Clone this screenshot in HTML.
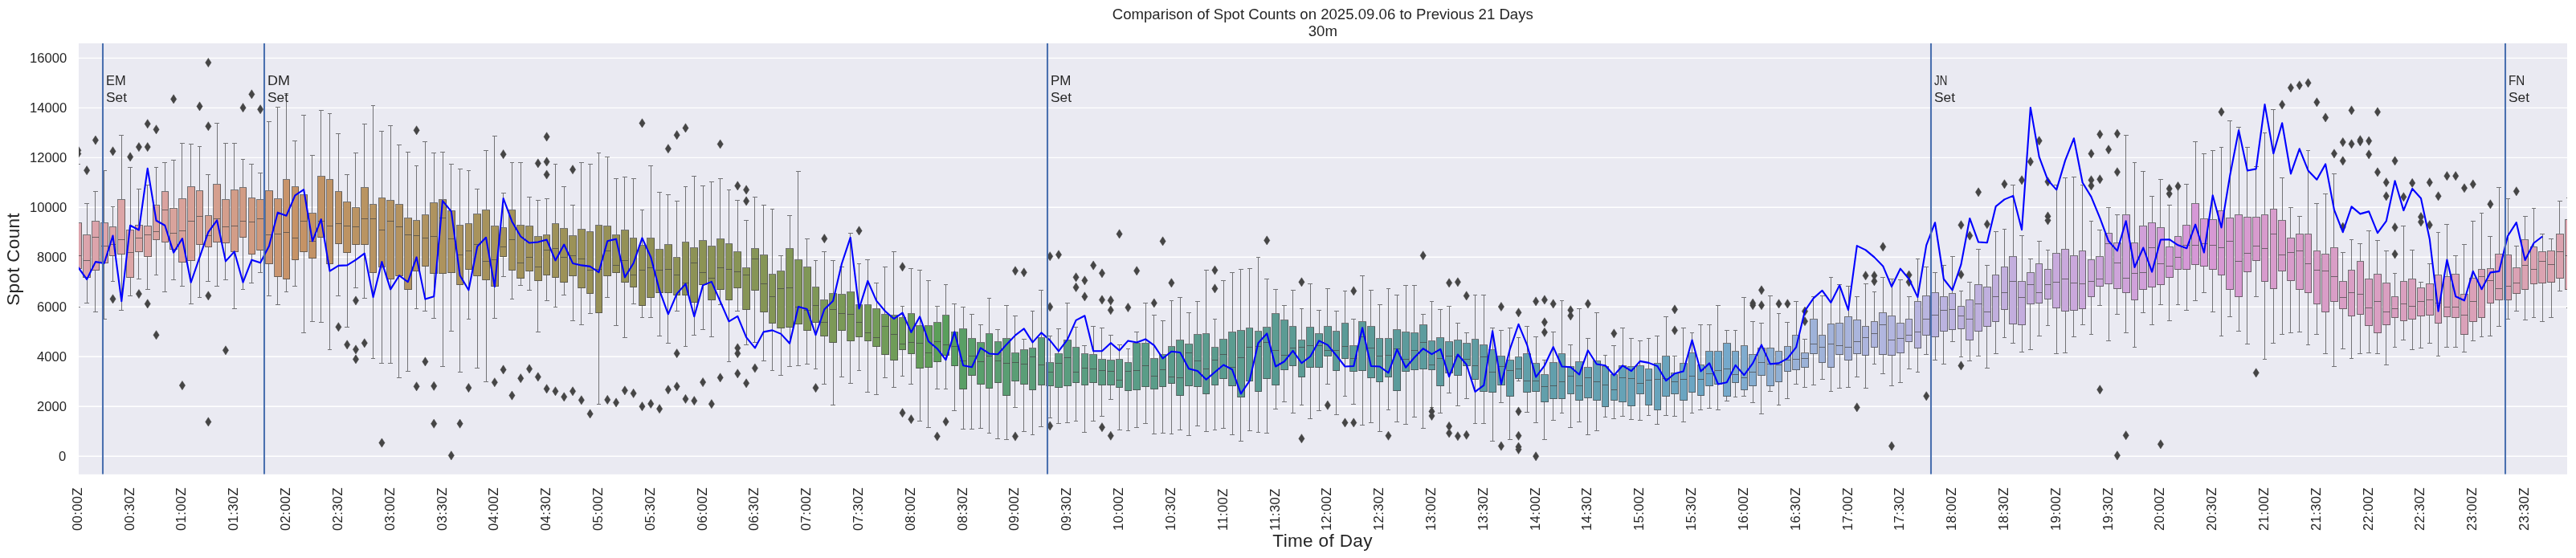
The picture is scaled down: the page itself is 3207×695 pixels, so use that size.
<!DOCTYPE html><html><head><meta charset="utf-8"><title>Spot Counts</title><style>
html,body{margin:0;padding:0;background:#fff;}
body{width:3207px;height:695px;position:relative;overflow:hidden;font-family:"Liberation Sans",sans-serif;color:#262626;}
.t,.yt,.xt,.an{will-change:transform;}
.t{position:absolute;white-space:nowrap;line-height:1;}
.yt{position:absolute;right:3124.3px;font-size:16.6px;line-height:1;white-space:nowrap;transform:translateY(-50%);}
.xt{position:absolute;font-size:16.6px;line-height:1;white-space:nowrap;letter-spacing:0.38px;transform-origin:0 0;transform:rotate(-90deg);}
.an{position:absolute;font-size:17.3px;line-height:21px;white-space:nowrap;}
</style></head><body>
<svg width="3207" height="695" viewBox="0 0 3207 695" style="position:absolute;left:0;top:0">
<rect x="0" y="0" width="3207" height="695" fill="#fff"/>
<rect x="98.0" y="54.0" width="3098.0" height="536.8" fill="#eaeaf2"/>
<clipPath id="c"><rect x="98.0" y="54.0" width="3098.0" height="536.8"/></clipPath>
<line x1="98.0" x2="3196.0" y1="568.20" y2="568.20" stroke="#fff" stroke-width="1.4"/>
<line x1="98.0" x2="3196.0" y1="506.22" y2="506.22" stroke="#fff" stroke-width="1.4"/>
<line x1="98.0" x2="3196.0" y1="444.25" y2="444.25" stroke="#fff" stroke-width="1.4"/>
<line x1="98.0" x2="3196.0" y1="382.27" y2="382.27" stroke="#fff" stroke-width="1.4"/>
<line x1="98.0" x2="3196.0" y1="320.30" y2="320.30" stroke="#fff" stroke-width="1.4"/>
<line x1="98.0" x2="3196.0" y1="258.32" y2="258.32" stroke="#fff" stroke-width="1.4"/>
<line x1="98.0" x2="3196.0" y1="196.34" y2="196.34" stroke="#fff" stroke-width="1.4"/>
<line x1="98.0" x2="3196.0" y1="134.37" y2="134.37" stroke="#fff" stroke-width="1.4"/>
<line x1="98.0" x2="3196.0" y1="72.39" y2="72.39" stroke="#fff" stroke-width="1.4"/>
<g clip-path="url(#c)">
<rect x="92.5" y="277.5" width="9.0" height="57.0" fill="rgb(220,164,173)" stroke="#454545" stroke-opacity="0.72" stroke-width="1" shape-rendering="crispEdges"/>
<rect x="103.5" y="292.5" width="9.0" height="53.0" fill="rgb(220,164,172)" stroke="#454545" stroke-opacity="0.72" stroke-width="1" shape-rendering="crispEdges"/>
<rect x="114.5" y="275.5" width="9.0" height="61.0" fill="rgb(220,164,171)" stroke="#454545" stroke-opacity="0.72" stroke-width="1" shape-rendering="crispEdges"/>
<rect x="125.5" y="277.5" width="9.0" height="50.0" fill="rgb(220,164,170)" stroke="#454545" stroke-opacity="0.72" stroke-width="1" shape-rendering="crispEdges"/>
<rect x="136.5" y="282.5" width="8.0" height="36.0" fill="rgb(220,165,168)" stroke="#454545" stroke-opacity="0.72" stroke-width="1" shape-rendering="crispEdges"/>
<rect x="146.5" y="248.5" width="9.0" height="68.0" fill="rgb(220,165,167)" stroke="#454545" stroke-opacity="0.72" stroke-width="1" shape-rendering="crispEdges"/>
<rect x="157.5" y="286.5" width="9.0" height="59.0" fill="rgb(220,165,166)" stroke="#454545" stroke-opacity="0.72" stroke-width="1" shape-rendering="crispEdges"/>
<rect x="168.5" y="280.5" width="9.0" height="33.0" fill="rgb(220,165,165)" stroke="#454545" stroke-opacity="0.72" stroke-width="1" shape-rendering="crispEdges"/>
<rect x="179.5" y="281.5" width="9.0" height="38.0" fill="rgb(219,164,163)" stroke="#454545" stroke-opacity="0.72" stroke-width="1" shape-rendering="crispEdges"/>
<rect x="190.5" y="255.5" width="8.0" height="43.0" fill="rgb(219,164,161)" stroke="#454545" stroke-opacity="0.72" stroke-width="1" shape-rendering="crispEdges"/>
<rect x="201.5" y="238.5" width="8.0" height="63.0" fill="rgb(218,163,159)" stroke="#454545" stroke-opacity="0.72" stroke-width="1" shape-rendering="crispEdges"/>
<rect x="211.5" y="259.5" width="9.0" height="51.0" fill="rgb(217,163,156)" stroke="#454545" stroke-opacity="0.72" stroke-width="1" shape-rendering="crispEdges"/>
<rect x="222.5" y="247.5" width="9.0" height="79.0" fill="rgb(217,162,154)" stroke="#454545" stroke-opacity="0.72" stroke-width="1" shape-rendering="crispEdges"/>
<rect x="233.5" y="232.5" width="9.0" height="92.0" fill="rgb(216,161,151)" stroke="#454545" stroke-opacity="0.72" stroke-width="1" shape-rendering="crispEdges"/>
<rect x="244.5" y="237.5" width="8.0" height="67.0" fill="rgb(215,161,149)" stroke="#454545" stroke-opacity="0.72" stroke-width="1" shape-rendering="crispEdges"/>
<rect x="255.5" y="268.5" width="8.0" height="39.0" fill="rgb(214,160,146)" stroke="#454545" stroke-opacity="0.72" stroke-width="1" shape-rendering="crispEdges"/>
<rect x="265.5" y="229.5" width="9.0" height="72.0" fill="rgb(213,159,143)" stroke="#454545" stroke-opacity="0.72" stroke-width="1" shape-rendering="crispEdges"/>
<rect x="276.5" y="248.5" width="9.0" height="54.0" fill="rgb(212,158,140)" stroke="#454545" stroke-opacity="0.72" stroke-width="1" shape-rendering="crispEdges"/>
<rect x="287.5" y="236.5" width="9.0" height="77.0" fill="rgb(211,157,136)" stroke="#454545" stroke-opacity="0.72" stroke-width="1" shape-rendering="crispEdges"/>
<rect x="298.5" y="233.5" width="8.0" height="62.0" fill="rgb(210,156,133)" stroke="#454545" stroke-opacity="0.72" stroke-width="1" shape-rendering="crispEdges"/>
<rect x="309.5" y="246.5" width="8.0" height="70.0" fill="rgb(208,155,129)" stroke="#454545" stroke-opacity="0.72" stroke-width="1" shape-rendering="crispEdges"/>
<rect x="319.5" y="248.5" width="9.0" height="63.0" fill="rgb(207,153,124)" stroke="#454545" stroke-opacity="0.72" stroke-width="1" shape-rendering="crispEdges"/>
<rect x="330.5" y="237.5" width="9.0" height="91.0" fill="rgb(205,152,119)" stroke="#454545" stroke-opacity="0.72" stroke-width="1" shape-rendering="crispEdges"/>
<rect x="341.5" y="247.5" width="9.0" height="97.0" fill="rgb(203,150,113)" stroke="#454545" stroke-opacity="0.72" stroke-width="1" shape-rendering="crispEdges"/>
<rect x="352.5" y="223.5" width="8.0" height="124.0" fill="rgb(201,148,106)" stroke="#454545" stroke-opacity="0.72" stroke-width="1" shape-rendering="crispEdges"/>
<rect x="363.5" y="232.5" width="8.0" height="91.0" fill="rgb(199,147,103)" stroke="#454545" stroke-opacity="0.72" stroke-width="1" shape-rendering="crispEdges"/>
<rect x="373.5" y="242.5" width="9.0" height="71.0" fill="rgb(197,147,102)" stroke="#454545" stroke-opacity="0.72" stroke-width="1" shape-rendering="crispEdges"/>
<rect x="384.5" y="265.5" width="9.0" height="56.0" fill="rgb(195,147,102)" stroke="#454545" stroke-opacity="0.72" stroke-width="1" shape-rendering="crispEdges"/>
<rect x="395.5" y="219.5" width="9.0" height="76.0" fill="rgb(193,147,101)" stroke="#454545" stroke-opacity="0.72" stroke-width="1" shape-rendering="crispEdges"/>
<rect x="406.5" y="223.5" width="8.0" height="105.0" fill="rgb(192,147,100)" stroke="#454545" stroke-opacity="0.72" stroke-width="1" shape-rendering="crispEdges"/>
<rect x="417.5" y="238.5" width="8.0" height="65.0" fill="rgb(190,147,100)" stroke="#454545" stroke-opacity="0.72" stroke-width="1" shape-rendering="crispEdges"/>
<rect x="427.5" y="251.5" width="9.0" height="63.0" fill="rgb(189,147,99)" stroke="#454545" stroke-opacity="0.72" stroke-width="1" shape-rendering="crispEdges"/>
<rect x="438.5" y="258.5" width="9.0" height="46.0" fill="rgb(187,148,99)" stroke="#454545" stroke-opacity="0.72" stroke-width="1" shape-rendering="crispEdges"/>
<rect x="449.5" y="233.5" width="9.0" height="71.0" fill="rgb(185,148,98)" stroke="#454545" stroke-opacity="0.72" stroke-width="1" shape-rendering="crispEdges"/>
<rect x="460.5" y="254.5" width="8.0" height="85.0" fill="rgb(184,148,98)" stroke="#454545" stroke-opacity="0.72" stroke-width="1" shape-rendering="crispEdges"/>
<rect x="471.5" y="246.5" width="8.0" height="86.0" fill="rgb(183,147,97)" stroke="#454545" stroke-opacity="0.72" stroke-width="1" shape-rendering="crispEdges"/>
<rect x="481.5" y="249.5" width="9.0" height="98.0" fill="rgb(181,147,97)" stroke="#454545" stroke-opacity="0.72" stroke-width="1" shape-rendering="crispEdges"/>
<rect x="492.5" y="254.5" width="9.0" height="89.0" fill="rgb(180,147,96)" stroke="#454545" stroke-opacity="0.72" stroke-width="1" shape-rendering="crispEdges"/>
<rect x="503.5" y="271.5" width="9.0" height="89.0" fill="rgb(178,147,96)" stroke="#454545" stroke-opacity="0.72" stroke-width="1" shape-rendering="crispEdges"/>
<rect x="514.5" y="274.5" width="8.0" height="63.0" fill="rgb(177,147,95)" stroke="#454545" stroke-opacity="0.72" stroke-width="1" shape-rendering="crispEdges"/>
<rect x="525.5" y="267.5" width="8.0" height="64.0" fill="rgb(176,147,95)" stroke="#454545" stroke-opacity="0.72" stroke-width="1" shape-rendering="crispEdges"/>
<rect x="535.5" y="252.5" width="9.0" height="88.0" fill="rgb(175,147,95)" stroke="#454545" stroke-opacity="0.72" stroke-width="1" shape-rendering="crispEdges"/>
<rect x="546.5" y="248.5" width="9.0" height="92.0" fill="rgb(173,147,94)" stroke="#454545" stroke-opacity="0.72" stroke-width="1" shape-rendering="crispEdges"/>
<rect x="557.5" y="262.5" width="9.0" height="77.0" fill="rgb(172,147,94)" stroke="#454545" stroke-opacity="0.72" stroke-width="1" shape-rendering="crispEdges"/>
<rect x="568.5" y="280.5" width="8.0" height="74.0" fill="rgb(171,147,93)" stroke="#454545" stroke-opacity="0.72" stroke-width="1" shape-rendering="crispEdges"/>
<rect x="579.5" y="278.5" width="8.0" height="57.0" fill="rgb(170,147,93)" stroke="#454545" stroke-opacity="0.72" stroke-width="1" shape-rendering="crispEdges"/>
<rect x="589.5" y="266.5" width="9.0" height="77.0" fill="rgb(168,147,92)" stroke="#454545" stroke-opacity="0.72" stroke-width="1" shape-rendering="crispEdges"/>
<rect x="600.5" y="261.5" width="9.0" height="87.0" fill="rgb(167,147,92)" stroke="#454545" stroke-opacity="0.72" stroke-width="1" shape-rendering="crispEdges"/>
<rect x="611.5" y="281.5" width="9.0" height="75.0" fill="rgb(166,147,92)" stroke="#454545" stroke-opacity="0.72" stroke-width="1" shape-rendering="crispEdges"/>
<rect x="622.5" y="283.5" width="8.0" height="36.0" fill="rgb(165,147,91)" stroke="#454545" stroke-opacity="0.72" stroke-width="1" shape-rendering="crispEdges"/>
<rect x="633.5" y="261.5" width="8.0" height="75.0" fill="rgb(164,147,91)" stroke="#454545" stroke-opacity="0.72" stroke-width="1" shape-rendering="crispEdges"/>
<rect x="643.5" y="280.5" width="9.0" height="66.0" fill="rgb(162,146,90)" stroke="#454545" stroke-opacity="0.72" stroke-width="1" shape-rendering="crispEdges"/>
<rect x="654.5" y="281.5" width="9.0" height="56.0" fill="rgb(161,146,90)" stroke="#454545" stroke-opacity="0.72" stroke-width="1" shape-rendering="crispEdges"/>
<rect x="665.5" y="294.5" width="9.0" height="55.0" fill="rgb(160,146,90)" stroke="#454545" stroke-opacity="0.72" stroke-width="1" shape-rendering="crispEdges"/>
<rect x="676.5" y="292.5" width="8.0" height="50.0" fill="rgb(159,146,89)" stroke="#454545" stroke-opacity="0.72" stroke-width="1" shape-rendering="crispEdges"/>
<rect x="687.5" y="278.5" width="8.0" height="67.0" fill="rgb(158,146,89)" stroke="#454545" stroke-opacity="0.72" stroke-width="1" shape-rendering="crispEdges"/>
<rect x="697.5" y="284.5" width="9.0" height="67.0" fill="rgb(157,146,88)" stroke="#454545" stroke-opacity="0.72" stroke-width="1" shape-rendering="crispEdges"/>
<rect x="708.5" y="293.5" width="9.0" height="50.0" fill="rgb(155,146,88)" stroke="#454545" stroke-opacity="0.72" stroke-width="1" shape-rendering="crispEdges"/>
<rect x="719.5" y="285.5" width="9.0" height="73.0" fill="rgb(154,146,88)" stroke="#454545" stroke-opacity="0.72" stroke-width="1" shape-rendering="crispEdges"/>
<rect x="730.5" y="288.5" width="8.0" height="77.0" fill="rgb(153,145,87)" stroke="#454545" stroke-opacity="0.72" stroke-width="1" shape-rendering="crispEdges"/>
<rect x="741.5" y="280.5" width="8.0" height="109.0" fill="rgb(152,145,87)" stroke="#454545" stroke-opacity="0.72" stroke-width="1" shape-rendering="crispEdges"/>
<rect x="751.5" y="281.5" width="9.0" height="62.0" fill="rgb(151,145,86)" stroke="#454545" stroke-opacity="0.72" stroke-width="1" shape-rendering="crispEdges"/>
<rect x="762.5" y="292.5" width="9.0" height="47.0" fill="rgb(149,145,86)" stroke="#454545" stroke-opacity="0.72" stroke-width="1" shape-rendering="crispEdges"/>
<rect x="773.5" y="286.5" width="9.0" height="65.0" fill="rgb(148,145,86)" stroke="#454545" stroke-opacity="0.72" stroke-width="1" shape-rendering="crispEdges"/>
<rect x="784.5" y="296.5" width="8.0" height="61.0" fill="rgb(147,145,85)" stroke="#454545" stroke-opacity="0.72" stroke-width="1" shape-rendering="crispEdges"/>
<rect x="795.5" y="305.5" width="8.0" height="75.0" fill="rgb(146,145,85)" stroke="#454545" stroke-opacity="0.72" stroke-width="1" shape-rendering="crispEdges"/>
<rect x="805.5" y="296.5" width="9.0" height="74.0" fill="rgb(144,144,84)" stroke="#454545" stroke-opacity="0.72" stroke-width="1" shape-rendering="crispEdges"/>
<rect x="816.5" y="310.5" width="9.0" height="54.0" fill="rgb(144,145,84)" stroke="#454545" stroke-opacity="0.72" stroke-width="1" shape-rendering="crispEdges"/>
<rect x="827.5" y="304.5" width="9.0" height="60.0" fill="rgb(143,145,85)" stroke="#454545" stroke-opacity="0.72" stroke-width="1" shape-rendering="crispEdges"/>
<rect x="838.5" y="320.5" width="8.0" height="47.0" fill="rgb(142,146,85)" stroke="#454545" stroke-opacity="0.72" stroke-width="1" shape-rendering="crispEdges"/>
<rect x="849.5" y="301.5" width="8.0" height="66.0" fill="rgb(141,146,85)" stroke="#454545" stroke-opacity="0.72" stroke-width="1" shape-rendering="crispEdges"/>
<rect x="859.5" y="308.5" width="9.0" height="68.0" fill="rgb(141,146,85)" stroke="#454545" stroke-opacity="0.72" stroke-width="1" shape-rendering="crispEdges"/>
<rect x="870.5" y="299.5" width="9.0" height="55.0" fill="rgb(140,147,85)" stroke="#454545" stroke-opacity="0.72" stroke-width="1" shape-rendering="crispEdges"/>
<rect x="881.5" y="306.5" width="9.0" height="67.0" fill="rgb(139,147,85)" stroke="#454545" stroke-opacity="0.72" stroke-width="1" shape-rendering="crispEdges"/>
<rect x="892.5" y="297.5" width="9.0" height="63.0" fill="rgb(138,147,85)" stroke="#454545" stroke-opacity="0.72" stroke-width="1" shape-rendering="crispEdges"/>
<rect x="903.5" y="303.5" width="8.0" height="70.0" fill="rgb(137,148,85)" stroke="#454545" stroke-opacity="0.72" stroke-width="1" shape-rendering="crispEdges"/>
<rect x="913.5" y="313.5" width="9.0" height="45.0" fill="rgb(136,148,86)" stroke="#454545" stroke-opacity="0.72" stroke-width="1" shape-rendering="crispEdges"/>
<rect x="924.5" y="333.5" width="9.0" height="52.0" fill="rgb(135,149,86)" stroke="#454545" stroke-opacity="0.72" stroke-width="1" shape-rendering="crispEdges"/>
<rect x="935.5" y="309.5" width="9.0" height="52.0" fill="rgb(134,149,86)" stroke="#454545" stroke-opacity="0.72" stroke-width="1" shape-rendering="crispEdges"/>
<rect x="946.5" y="317.5" width="9.0" height="71.0" fill="rgb(133,149,86)" stroke="#454545" stroke-opacity="0.72" stroke-width="1" shape-rendering="crispEdges"/>
<rect x="957.5" y="341.5" width="8.0" height="61.0" fill="rgb(132,150,86)" stroke="#454545" stroke-opacity="0.72" stroke-width="1" shape-rendering="crispEdges"/>
<rect x="967.5" y="337.5" width="9.0" height="71.0" fill="rgb(131,150,86)" stroke="#454545" stroke-opacity="0.72" stroke-width="1" shape-rendering="crispEdges"/>
<rect x="978.5" y="309.5" width="9.0" height="98.0" fill="rgb(130,151,86)" stroke="#454545" stroke-opacity="0.72" stroke-width="1" shape-rendering="crispEdges"/>
<rect x="989.5" y="323.5" width="9.0" height="80.0" fill="rgb(129,151,86)" stroke="#454545" stroke-opacity="0.72" stroke-width="1" shape-rendering="crispEdges"/>
<rect x="1000.5" y="332.5" width="9.0" height="79.0" fill="rgb(128,151,87)" stroke="#454545" stroke-opacity="0.72" stroke-width="1" shape-rendering="crispEdges"/>
<rect x="1011.5" y="357.5" width="8.0" height="44.0" fill="rgb(127,152,87)" stroke="#454545" stroke-opacity="0.72" stroke-width="1" shape-rendering="crispEdges"/>
<rect x="1021.5" y="373.5" width="9.0" height="45.0" fill="rgb(125,152,87)" stroke="#454545" stroke-opacity="0.72" stroke-width="1" shape-rendering="crispEdges"/>
<rect x="1032.5" y="365.5" width="9.0" height="61.0" fill="rgb(124,153,87)" stroke="#454545" stroke-opacity="0.72" stroke-width="1" shape-rendering="crispEdges"/>
<rect x="1043.5" y="366.5" width="9.0" height="45.0" fill="rgb(122,153,87)" stroke="#454545" stroke-opacity="0.72" stroke-width="1" shape-rendering="crispEdges"/>
<rect x="1054.5" y="363.5" width="9.0" height="61.0" fill="rgb(121,154,87)" stroke="#454545" stroke-opacity="0.72" stroke-width="1" shape-rendering="crispEdges"/>
<rect x="1065.5" y="379.5" width="8.0" height="40.0" fill="rgb(119,154,87)" stroke="#454545" stroke-opacity="0.72" stroke-width="1" shape-rendering="crispEdges"/>
<rect x="1076.5" y="379.5" width="8.0" height="45.0" fill="rgb(117,155,88)" stroke="#454545" stroke-opacity="0.72" stroke-width="1" shape-rendering="crispEdges"/>
<rect x="1086.5" y="384.5" width="9.0" height="47.0" fill="rgb(115,155,88)" stroke="#454545" stroke-opacity="0.72" stroke-width="1" shape-rendering="crispEdges"/>
<rect x="1097.5" y="391.5" width="9.0" height="50.0" fill="rgb(113,156,88)" stroke="#454545" stroke-opacity="0.72" stroke-width="1" shape-rendering="crispEdges"/>
<rect x="1108.5" y="392.5" width="9.0" height="56.0" fill="rgb(111,156,88)" stroke="#454545" stroke-opacity="0.72" stroke-width="1" shape-rendering="crispEdges"/>
<rect x="1119.5" y="395.5" width="8.0" height="40.0" fill="rgb(108,157,88)" stroke="#454545" stroke-opacity="0.72" stroke-width="1" shape-rendering="crispEdges"/>
<rect x="1130.5" y="390.5" width="8.0" height="50.0" fill="rgb(105,157,88)" stroke="#454545" stroke-opacity="0.72" stroke-width="1" shape-rendering="crispEdges"/>
<rect x="1140.5" y="405.5" width="9.0" height="53.0" fill="rgb(101,158,89)" stroke="#454545" stroke-opacity="0.72" stroke-width="1" shape-rendering="crispEdges"/>
<rect x="1151.5" y="405.5" width="9.0" height="52.0" fill="rgb(97,158,89)" stroke="#454545" stroke-opacity="0.72" stroke-width="1" shape-rendering="crispEdges"/>
<rect x="1162.5" y="401.5" width="9.0" height="49.0" fill="rgb(92,159,89)" stroke="#454545" stroke-opacity="0.72" stroke-width="1" shape-rendering="crispEdges"/>
<rect x="1173.5" y="392.5" width="8.0" height="50.0" fill="rgb(89,159,92)" stroke="#454545" stroke-opacity="0.72" stroke-width="1" shape-rendering="crispEdges"/>
<rect x="1184.5" y="413.5" width="8.0" height="42.0" fill="rgb(89,159,97)" stroke="#454545" stroke-opacity="0.72" stroke-width="1" shape-rendering="crispEdges"/>
<rect x="1194.5" y="409.5" width="9.0" height="75.0" fill="rgb(89,159,101)" stroke="#454545" stroke-opacity="0.72" stroke-width="1" shape-rendering="crispEdges"/>
<rect x="1205.5" y="421.5" width="9.0" height="46.0" fill="rgb(89,159,105)" stroke="#454545" stroke-opacity="0.72" stroke-width="1" shape-rendering="crispEdges"/>
<rect x="1216.5" y="426.5" width="9.0" height="52.0" fill="rgb(89,159,108)" stroke="#454545" stroke-opacity="0.72" stroke-width="1" shape-rendering="crispEdges"/>
<rect x="1227.5" y="415.5" width="8.0" height="68.0" fill="rgb(89,158,111)" stroke="#454545" stroke-opacity="0.72" stroke-width="1" shape-rendering="crispEdges"/>
<rect x="1238.5" y="425.5" width="8.0" height="51.0" fill="rgb(90,158,113)" stroke="#454545" stroke-opacity="0.72" stroke-width="1" shape-rendering="crispEdges"/>
<rect x="1248.5" y="421.5" width="9.0" height="71.0" fill="rgb(90,158,115)" stroke="#454545" stroke-opacity="0.72" stroke-width="1" shape-rendering="crispEdges"/>
<rect x="1259.5" y="439.5" width="9.0" height="35.0" fill="rgb(90,158,117)" stroke="#454545" stroke-opacity="0.72" stroke-width="1" shape-rendering="crispEdges"/>
<rect x="1270.5" y="435.5" width="9.0" height="43.0" fill="rgb(90,158,119)" stroke="#454545" stroke-opacity="0.72" stroke-width="1" shape-rendering="crispEdges"/>
<rect x="1281.5" y="433.5" width="8.0" height="52.0" fill="rgb(90,158,121)" stroke="#454545" stroke-opacity="0.72" stroke-width="1" shape-rendering="crispEdges"/>
<rect x="1292.5" y="420.5" width="8.0" height="59.0" fill="rgb(90,158,123)" stroke="#454545" stroke-opacity="0.72" stroke-width="1" shape-rendering="crispEdges"/>
<rect x="1302.5" y="451.5" width="9.0" height="29.0" fill="rgb(90,158,124)" stroke="#454545" stroke-opacity="0.72" stroke-width="1" shape-rendering="crispEdges"/>
<rect x="1313.5" y="440.5" width="9.0" height="42.0" fill="rgb(90,157,125)" stroke="#454545" stroke-opacity="0.72" stroke-width="1" shape-rendering="crispEdges"/>
<rect x="1324.5" y="423.5" width="9.0" height="57.0" fill="rgb(90,157,127)" stroke="#454545" stroke-opacity="0.72" stroke-width="1" shape-rendering="crispEdges"/>
<rect x="1335.5" y="432.5" width="8.0" height="44.0" fill="rgb(90,157,128)" stroke="#454545" stroke-opacity="0.72" stroke-width="1" shape-rendering="crispEdges"/>
<rect x="1346.5" y="440.5" width="8.0" height="39.0" fill="rgb(90,157,129)" stroke="#454545" stroke-opacity="0.72" stroke-width="1" shape-rendering="crispEdges"/>
<rect x="1356.5" y="441.5" width="9.0" height="35.0" fill="rgb(90,157,130)" stroke="#454545" stroke-opacity="0.72" stroke-width="1" shape-rendering="crispEdges"/>
<rect x="1367.5" y="447.5" width="9.0" height="32.0" fill="rgb(90,157,131)" stroke="#454545" stroke-opacity="0.72" stroke-width="1" shape-rendering="crispEdges"/>
<rect x="1378.5" y="448.5" width="9.0" height="31.0" fill="rgb(90,157,132)" stroke="#454545" stroke-opacity="0.72" stroke-width="1" shape-rendering="crispEdges"/>
<rect x="1389.5" y="447.5" width="8.0" height="35.0" fill="rgb(90,157,133)" stroke="#454545" stroke-opacity="0.72" stroke-width="1" shape-rendering="crispEdges"/>
<rect x="1400.5" y="451.5" width="8.0" height="35.0" fill="rgb(90,157,134)" stroke="#454545" stroke-opacity="0.72" stroke-width="1" shape-rendering="crispEdges"/>
<rect x="1410.5" y="427.5" width="9.0" height="58.0" fill="rgb(90,157,135)" stroke="#454545" stroke-opacity="0.72" stroke-width="1" shape-rendering="crispEdges"/>
<rect x="1421.5" y="427.5" width="9.0" height="54.0" fill="rgb(90,157,136)" stroke="#454545" stroke-opacity="0.72" stroke-width="1" shape-rendering="crispEdges"/>
<rect x="1432.5" y="446.5" width="9.0" height="38.0" fill="rgb(90,157,137)" stroke="#454545" stroke-opacity="0.72" stroke-width="1" shape-rendering="crispEdges"/>
<rect x="1443.5" y="441.5" width="8.0" height="40.0" fill="rgb(90,156,138)" stroke="#454545" stroke-opacity="0.72" stroke-width="1" shape-rendering="crispEdges"/>
<rect x="1454.5" y="431.5" width="8.0" height="46.0" fill="rgb(90,156,139)" stroke="#454545" stroke-opacity="0.72" stroke-width="1" shape-rendering="crispEdges"/>
<rect x="1464.5" y="423.5" width="9.0" height="69.0" fill="rgb(90,156,139)" stroke="#454545" stroke-opacity="0.72" stroke-width="1" shape-rendering="crispEdges"/>
<rect x="1475.5" y="428.5" width="9.0" height="52.0" fill="rgb(91,156,140)" stroke="#454545" stroke-opacity="0.72" stroke-width="1" shape-rendering="crispEdges"/>
<rect x="1486.5" y="416.5" width="9.0" height="65.0" fill="rgb(91,156,141)" stroke="#454545" stroke-opacity="0.72" stroke-width="1" shape-rendering="crispEdges"/>
<rect x="1497.5" y="415.5" width="8.0" height="75.0" fill="rgb(91,156,142)" stroke="#454545" stroke-opacity="0.72" stroke-width="1" shape-rendering="crispEdges"/>
<rect x="1508.5" y="432.5" width="8.0" height="47.0" fill="rgb(91,156,142)" stroke="#454545" stroke-opacity="0.72" stroke-width="1" shape-rendering="crispEdges"/>
<rect x="1518.5" y="422.5" width="9.0" height="49.0" fill="rgb(91,156,143)" stroke="#454545" stroke-opacity="0.72" stroke-width="1" shape-rendering="crispEdges"/>
<rect x="1529.5" y="413.5" width="9.0" height="67.0" fill="rgb(91,156,144)" stroke="#454545" stroke-opacity="0.72" stroke-width="1" shape-rendering="crispEdges"/>
<rect x="1540.5" y="411.5" width="9.0" height="83.0" fill="rgb(91,156,144)" stroke="#454545" stroke-opacity="0.72" stroke-width="1" shape-rendering="crispEdges"/>
<rect x="1551.5" y="408.5" width="8.0" height="66.0" fill="rgb(91,156,145)" stroke="#454545" stroke-opacity="0.72" stroke-width="1" shape-rendering="crispEdges"/>
<rect x="1562.5" y="412.5" width="8.0" height="75.0" fill="rgb(91,156,146)" stroke="#454545" stroke-opacity="0.72" stroke-width="1" shape-rendering="crispEdges"/>
<rect x="1572.5" y="407.5" width="9.0" height="64.0" fill="rgb(91,156,146)" stroke="#454545" stroke-opacity="0.72" stroke-width="1" shape-rendering="crispEdges"/>
<rect x="1583.5" y="390.5" width="9.0" height="89.0" fill="rgb(91,156,147)" stroke="#454545" stroke-opacity="0.72" stroke-width="1" shape-rendering="crispEdges"/>
<rect x="1594.5" y="398.5" width="9.0" height="62.0" fill="rgb(91,155,148)" stroke="#454545" stroke-opacity="0.72" stroke-width="1" shape-rendering="crispEdges"/>
<rect x="1605.5" y="406.5" width="8.0" height="49.0" fill="rgb(91,155,148)" stroke="#454545" stroke-opacity="0.72" stroke-width="1" shape-rendering="crispEdges"/>
<rect x="1616.5" y="423.5" width="8.0" height="46.0" fill="rgb(91,155,149)" stroke="#454545" stroke-opacity="0.72" stroke-width="1" shape-rendering="crispEdges"/>
<rect x="1626.5" y="407.5" width="9.0" height="50.0" fill="rgb(91,155,149)" stroke="#454545" stroke-opacity="0.72" stroke-width="1" shape-rendering="crispEdges"/>
<rect x="1637.5" y="415.5" width="9.0" height="42.0" fill="rgb(91,155,150)" stroke="#454545" stroke-opacity="0.72" stroke-width="1" shape-rendering="crispEdges"/>
<rect x="1648.5" y="406.5" width="9.0" height="37.0" fill="rgb(91,155,150)" stroke="#454545" stroke-opacity="0.72" stroke-width="1" shape-rendering="crispEdges"/>
<rect x="1659.5" y="412.5" width="8.0" height="49.0" fill="rgb(91,155,151)" stroke="#454545" stroke-opacity="0.72" stroke-width="1" shape-rendering="crispEdges"/>
<rect x="1670.5" y="402.5" width="8.0" height="44.0" fill="rgb(91,155,152)" stroke="#454545" stroke-opacity="0.72" stroke-width="1" shape-rendering="crispEdges"/>
<rect x="1680.5" y="430.5" width="9.0" height="32.0" fill="rgb(91,155,152)" stroke="#454545" stroke-opacity="0.72" stroke-width="1" shape-rendering="crispEdges"/>
<rect x="1691.5" y="400.5" width="9.0" height="61.0" fill="rgb(91,155,153)" stroke="#454545" stroke-opacity="0.72" stroke-width="1" shape-rendering="crispEdges"/>
<rect x="1702.5" y="406.5" width="9.0" height="64.0" fill="rgb(91,155,153)" stroke="#454545" stroke-opacity="0.72" stroke-width="1" shape-rendering="crispEdges"/>
<rect x="1713.5" y="421.5" width="8.0" height="54.0" fill="rgb(91,155,154)" stroke="#454545" stroke-opacity="0.72" stroke-width="1" shape-rendering="crispEdges"/>
<rect x="1724.5" y="421.5" width="8.0" height="48.0" fill="rgb(91,155,154)" stroke="#454545" stroke-opacity="0.72" stroke-width="1" shape-rendering="crispEdges"/>
<rect x="1734.5" y="410.5" width="9.0" height="76.0" fill="rgb(91,155,155)" stroke="#454545" stroke-opacity="0.72" stroke-width="1" shape-rendering="crispEdges"/>
<rect x="1745.5" y="413.5" width="9.0" height="49.0" fill="rgb(92,155,156)" stroke="#454545" stroke-opacity="0.72" stroke-width="1" shape-rendering="crispEdges"/>
<rect x="1756.5" y="414.5" width="9.0" height="46.0" fill="rgb(92,155,157)" stroke="#454545" stroke-opacity="0.72" stroke-width="1" shape-rendering="crispEdges"/>
<rect x="1767.5" y="404.5" width="9.0" height="55.0" fill="rgb(92,156,158)" stroke="#454545" stroke-opacity="0.72" stroke-width="1" shape-rendering="crispEdges"/>
<rect x="1778.5" y="424.5" width="8.0" height="36.0" fill="rgb(93,156,159)" stroke="#454545" stroke-opacity="0.72" stroke-width="1" shape-rendering="crispEdges"/>
<rect x="1788.5" y="420.5" width="9.0" height="60.0" fill="rgb(93,156,160)" stroke="#454545" stroke-opacity="0.72" stroke-width="1" shape-rendering="crispEdges"/>
<rect x="1799.5" y="425.5" width="9.0" height="39.0" fill="rgb(94,156,161)" stroke="#454545" stroke-opacity="0.72" stroke-width="1" shape-rendering="crispEdges"/>
<rect x="1810.5" y="423.5" width="9.0" height="44.0" fill="rgb(94,157,162)" stroke="#454545" stroke-opacity="0.72" stroke-width="1" shape-rendering="crispEdges"/>
<rect x="1821.5" y="427.5" width="9.0" height="28.0" fill="rgb(94,157,162)" stroke="#454545" stroke-opacity="0.72" stroke-width="1" shape-rendering="crispEdges"/>
<rect x="1832.5" y="422.5" width="8.0" height="50.0" fill="rgb(95,157,163)" stroke="#454545" stroke-opacity="0.72" stroke-width="1" shape-rendering="crispEdges"/>
<rect x="1842.5" y="429.5" width="9.0" height="58.0" fill="rgb(95,157,164)" stroke="#454545" stroke-opacity="0.72" stroke-width="1" shape-rendering="crispEdges"/>
<rect x="1853.5" y="435.5" width="9.0" height="53.0" fill="rgb(95,158,165)" stroke="#454545" stroke-opacity="0.72" stroke-width="1" shape-rendering="crispEdges"/>
<rect x="1864.5" y="443.5" width="9.0" height="36.0" fill="rgb(96,158,166)" stroke="#454545" stroke-opacity="0.72" stroke-width="1" shape-rendering="crispEdges"/>
<rect x="1875.5" y="448.5" width="9.0" height="45.0" fill="rgb(96,158,167)" stroke="#454545" stroke-opacity="0.72" stroke-width="1" shape-rendering="crispEdges"/>
<rect x="1886.5" y="444.5" width="8.0" height="27.0" fill="rgb(97,158,168)" stroke="#454545" stroke-opacity="0.72" stroke-width="1" shape-rendering="crispEdges"/>
<rect x="1896.5" y="440.5" width="9.0" height="48.0" fill="rgb(97,159,169)" stroke="#454545" stroke-opacity="0.72" stroke-width="1" shape-rendering="crispEdges"/>
<rect x="1907.5" y="452.5" width="9.0" height="35.0" fill="rgb(97,159,170)" stroke="#454545" stroke-opacity="0.72" stroke-width="1" shape-rendering="crispEdges"/>
<rect x="1918.5" y="466.5" width="9.0" height="34.0" fill="rgb(98,159,171)" stroke="#454545" stroke-opacity="0.72" stroke-width="1" shape-rendering="crispEdges"/>
<rect x="1929.5" y="451.5" width="9.0" height="45.0" fill="rgb(98,159,172)" stroke="#454545" stroke-opacity="0.72" stroke-width="1" shape-rendering="crispEdges"/>
<rect x="1940.5" y="440.5" width="8.0" height="56.0" fill="rgb(99,160,173)" stroke="#454545" stroke-opacity="0.72" stroke-width="1" shape-rendering="crispEdges"/>
<rect x="1951.5" y="456.5" width="8.0" height="34.0" fill="rgb(99,160,175)" stroke="#454545" stroke-opacity="0.72" stroke-width="1" shape-rendering="crispEdges"/>
<rect x="1961.5" y="450.5" width="9.0" height="48.0" fill="rgb(100,160,176)" stroke="#454545" stroke-opacity="0.72" stroke-width="1" shape-rendering="crispEdges"/>
<rect x="1972.5" y="457.5" width="9.0" height="38.0" fill="rgb(100,161,177)" stroke="#454545" stroke-opacity="0.72" stroke-width="1" shape-rendering="crispEdges"/>
<rect x="1983.5" y="449.5" width="9.0" height="49.0" fill="rgb(101,161,178)" stroke="#454545" stroke-opacity="0.72" stroke-width="1" shape-rendering="crispEdges"/>
<rect x="1994.5" y="456.5" width="8.0" height="50.0" fill="rgb(101,161,179)" stroke="#454545" stroke-opacity="0.72" stroke-width="1" shape-rendering="crispEdges"/>
<rect x="2005.5" y="466.5" width="8.0" height="32.0" fill="rgb(102,162,181)" stroke="#454545" stroke-opacity="0.72" stroke-width="1" shape-rendering="crispEdges"/>
<rect x="2015.5" y="455.5" width="9.0" height="45.0" fill="rgb(102,162,182)" stroke="#454545" stroke-opacity="0.72" stroke-width="1" shape-rendering="crispEdges"/>
<rect x="2026.5" y="456.5" width="9.0" height="49.0" fill="rgb(103,162,183)" stroke="#454545" stroke-opacity="0.72" stroke-width="1" shape-rendering="crispEdges"/>
<rect x="2037.5" y="455.5" width="9.0" height="35.0" fill="rgb(103,163,185)" stroke="#454545" stroke-opacity="0.72" stroke-width="1" shape-rendering="crispEdges"/>
<rect x="2048.5" y="459.5" width="8.0" height="45.0" fill="rgb(104,163,186)" stroke="#454545" stroke-opacity="0.72" stroke-width="1" shape-rendering="crispEdges"/>
<rect x="2059.5" y="452.5" width="8.0" height="58.0" fill="rgb(104,164,188)" stroke="#454545" stroke-opacity="0.72" stroke-width="1" shape-rendering="crispEdges"/>
<rect x="2069.5" y="443.5" width="9.0" height="50.0" fill="rgb(105,164,189)" stroke="#454545" stroke-opacity="0.72" stroke-width="1" shape-rendering="crispEdges"/>
<rect x="2080.5" y="464.5" width="9.0" height="26.0" fill="rgb(106,164,191)" stroke="#454545" stroke-opacity="0.72" stroke-width="1" shape-rendering="crispEdges"/>
<rect x="2091.5" y="452.5" width="9.0" height="46.0" fill="rgb(107,165,193)" stroke="#454545" stroke-opacity="0.72" stroke-width="1" shape-rendering="crispEdges"/>
<rect x="2102.5" y="439.5" width="8.0" height="49.0" fill="rgb(107,165,195)" stroke="#454545" stroke-opacity="0.72" stroke-width="1" shape-rendering="crispEdges"/>
<rect x="2113.5" y="454.5" width="8.0" height="38.0" fill="rgb(108,166,197)" stroke="#454545" stroke-opacity="0.72" stroke-width="1" shape-rendering="crispEdges"/>
<rect x="2123.5" y="437.5" width="9.0" height="43.0" fill="rgb(109,166,199)" stroke="#454545" stroke-opacity="0.72" stroke-width="1" shape-rendering="crispEdges"/>
<rect x="2134.5" y="437.5" width="9.0" height="41.0" fill="rgb(110,167,201)" stroke="#454545" stroke-opacity="0.72" stroke-width="1" shape-rendering="crispEdges"/>
<rect x="2145.5" y="427.5" width="9.0" height="66.0" fill="rgb(117,169,203)" stroke="#454545" stroke-opacity="0.72" stroke-width="1" shape-rendering="crispEdges"/>
<rect x="2156.5" y="437.5" width="8.0" height="39.0" fill="rgb(123,170,205)" stroke="#454545" stroke-opacity="0.72" stroke-width="1" shape-rendering="crispEdges"/>
<rect x="2167.5" y="430.5" width="8.0" height="55.0" fill="rgb(128,172,207)" stroke="#454545" stroke-opacity="0.72" stroke-width="1" shape-rendering="crispEdges"/>
<rect x="2177.5" y="441.5" width="9.0" height="39.0" fill="rgb(133,173,208)" stroke="#454545" stroke-opacity="0.72" stroke-width="1" shape-rendering="crispEdges"/>
<rect x="2188.5" y="433.5" width="9.0" height="34.0" fill="rgb(137,174,210)" stroke="#454545" stroke-opacity="0.72" stroke-width="1" shape-rendering="crispEdges"/>
<rect x="2199.5" y="433.5" width="9.0" height="47.0" fill="rgb(141,175,211)" stroke="#454545" stroke-opacity="0.72" stroke-width="1" shape-rendering="crispEdges"/>
<rect x="2210.5" y="437.5" width="8.0" height="38.0" fill="rgb(145,176,212)" stroke="#454545" stroke-opacity="0.72" stroke-width="1" shape-rendering="crispEdges"/>
<rect x="2221.5" y="431.5" width="8.0" height="31.0" fill="rgb(148,176,213)" stroke="#454545" stroke-opacity="0.72" stroke-width="1" shape-rendering="crispEdges"/>
<rect x="2231.5" y="417.5" width="9.0" height="43.0" fill="rgb(152,177,215)" stroke="#454545" stroke-opacity="0.72" stroke-width="1" shape-rendering="crispEdges"/>
<rect x="2242.5" y="439.5" width="9.0" height="18.0" fill="rgb(155,178,216)" stroke="#454545" stroke-opacity="0.72" stroke-width="1" shape-rendering="crispEdges"/>
<rect x="2253.5" y="397.5" width="9.0" height="43.0" fill="rgb(158,178,217)" stroke="#454545" stroke-opacity="0.72" stroke-width="1" shape-rendering="crispEdges"/>
<rect x="2264.5" y="417.5" width="8.0" height="34.0" fill="rgb(160,179,217)" stroke="#454545" stroke-opacity="0.72" stroke-width="1" shape-rendering="crispEdges"/>
<rect x="2275.5" y="403.5" width="8.0" height="54.0" fill="rgb(163,179,218)" stroke="#454545" stroke-opacity="0.72" stroke-width="1" shape-rendering="crispEdges"/>
<rect x="2285.5" y="402.5" width="9.0" height="39.0" fill="rgb(166,180,219)" stroke="#454545" stroke-opacity="0.72" stroke-width="1" shape-rendering="crispEdges"/>
<rect x="2296.5" y="394.5" width="9.0" height="54.0" fill="rgb(168,180,220)" stroke="#454545" stroke-opacity="0.72" stroke-width="1" shape-rendering="crispEdges"/>
<rect x="2307.5" y="398.5" width="9.0" height="42.0" fill="rgb(170,181,221)" stroke="#454545" stroke-opacity="0.72" stroke-width="1" shape-rendering="crispEdges"/>
<rect x="2318.5" y="406.5" width="8.0" height="36.0" fill="rgb(173,181,222)" stroke="#454545" stroke-opacity="0.72" stroke-width="1" shape-rendering="crispEdges"/>
<rect x="2329.5" y="400.5" width="8.0" height="32.0" fill="rgb(175,181,222)" stroke="#454545" stroke-opacity="0.72" stroke-width="1" shape-rendering="crispEdges"/>
<rect x="2339.5" y="389.5" width="9.0" height="52.0" fill="rgb(177,182,223)" stroke="#454545" stroke-opacity="0.72" stroke-width="1" shape-rendering="crispEdges"/>
<rect x="2350.5" y="393.5" width="9.0" height="49.0" fill="rgb(179,182,224)" stroke="#454545" stroke-opacity="0.72" stroke-width="1" shape-rendering="crispEdges"/>
<rect x="2361.5" y="402.5" width="9.0" height="37.0" fill="rgb(181,182,224)" stroke="#454545" stroke-opacity="0.72" stroke-width="1" shape-rendering="crispEdges"/>
<rect x="2372.5" y="397.5" width="8.0" height="28.0" fill="rgb(183,182,225)" stroke="#454545" stroke-opacity="0.72" stroke-width="1" shape-rendering="crispEdges"/>
<rect x="2383.5" y="375.5" width="8.0" height="58.0" fill="rgb(184,181,224)" stroke="#454545" stroke-opacity="0.72" stroke-width="1" shape-rendering="crispEdges"/>
<rect x="2393.5" y="368.5" width="9.0" height="49.0" fill="rgb(185,181,224)" stroke="#454545" stroke-opacity="0.72" stroke-width="1" shape-rendering="crispEdges"/>
<rect x="2404.5" y="364.5" width="9.0" height="55.0" fill="rgb(186,180,224)" stroke="#454545" stroke-opacity="0.72" stroke-width="1" shape-rendering="crispEdges"/>
<rect x="2415.5" y="369.5" width="9.0" height="43.0" fill="rgb(187,179,224)" stroke="#454545" stroke-opacity="0.72" stroke-width="1" shape-rendering="crispEdges"/>
<rect x="2426.5" y="365.5" width="8.0" height="45.0" fill="rgb(188,179,224)" stroke="#454545" stroke-opacity="0.72" stroke-width="1" shape-rendering="crispEdges"/>
<rect x="2437.5" y="381.5" width="8.0" height="28.0" fill="rgb(189,178,223)" stroke="#454545" stroke-opacity="0.72" stroke-width="1" shape-rendering="crispEdges"/>
<rect x="2447.5" y="373.5" width="9.0" height="50.0" fill="rgb(190,178,223)" stroke="#454545" stroke-opacity="0.72" stroke-width="1" shape-rendering="crispEdges"/>
<rect x="2458.5" y="354.5" width="9.0" height="58.0" fill="rgb(191,177,223)" stroke="#454545" stroke-opacity="0.72" stroke-width="1" shape-rendering="crispEdges"/>
<rect x="2469.5" y="357.5" width="9.0" height="49.0" fill="rgb(192,176,223)" stroke="#454545" stroke-opacity="0.72" stroke-width="1" shape-rendering="crispEdges"/>
<rect x="2480.5" y="342.5" width="8.0" height="58.0" fill="rgb(193,175,222)" stroke="#454545" stroke-opacity="0.72" stroke-width="1" shape-rendering="crispEdges"/>
<rect x="2491.5" y="332.5" width="8.0" height="53.0" fill="rgb(194,175,222)" stroke="#454545" stroke-opacity="0.72" stroke-width="1" shape-rendering="crispEdges"/>
<rect x="2501.5" y="319.5" width="9.0" height="84.0" fill="rgb(195,174,222)" stroke="#454545" stroke-opacity="0.72" stroke-width="1" shape-rendering="crispEdges"/>
<rect x="2512.5" y="350.5" width="9.0" height="54.0" fill="rgb(196,173,222)" stroke="#454545" stroke-opacity="0.72" stroke-width="1" shape-rendering="crispEdges"/>
<rect x="2523.5" y="339.5" width="9.0" height="39.0" fill="rgb(197,173,221)" stroke="#454545" stroke-opacity="0.72" stroke-width="1" shape-rendering="crispEdges"/>
<rect x="2534.5" y="328.5" width="8.0" height="49.0" fill="rgb(198,172,221)" stroke="#454545" stroke-opacity="0.72" stroke-width="1" shape-rendering="crispEdges"/>
<rect x="2545.5" y="335.5" width="8.0" height="37.0" fill="rgb(199,171,221)" stroke="#454545" stroke-opacity="0.72" stroke-width="1" shape-rendering="crispEdges"/>
<rect x="2555.5" y="315.5" width="9.0" height="68.0" fill="rgb(200,170,221)" stroke="#454545" stroke-opacity="0.72" stroke-width="1" shape-rendering="crispEdges"/>
<rect x="2566.5" y="310.5" width="9.0" height="77.0" fill="rgb(201,169,220)" stroke="#454545" stroke-opacity="0.72" stroke-width="1" shape-rendering="crispEdges"/>
<rect x="2577.5" y="318.5" width="9.0" height="68.0" fill="rgb(202,168,220)" stroke="#454545" stroke-opacity="0.72" stroke-width="1" shape-rendering="crispEdges"/>
<rect x="2588.5" y="312.5" width="8.0" height="72.0" fill="rgb(203,168,220)" stroke="#454545" stroke-opacity="0.72" stroke-width="1" shape-rendering="crispEdges"/>
<rect x="2599.5" y="323.5" width="8.0" height="46.0" fill="rgb(204,167,219)" stroke="#454545" stroke-opacity="0.72" stroke-width="1" shape-rendering="crispEdges"/>
<rect x="2609.5" y="319.5" width="9.0" height="37.0" fill="rgb(204,166,219)" stroke="#454545" stroke-opacity="0.72" stroke-width="1" shape-rendering="crispEdges"/>
<rect x="2620.5" y="290.5" width="9.0" height="63.0" fill="rgb(205,165,219)" stroke="#454545" stroke-opacity="0.72" stroke-width="1" shape-rendering="crispEdges"/>
<rect x="2631.5" y="302.5" width="9.0" height="57.0" fill="rgb(206,164,218)" stroke="#454545" stroke-opacity="0.72" stroke-width="1" shape-rendering="crispEdges"/>
<rect x="2642.5" y="267.5" width="9.0" height="97.0" fill="rgb(207,163,218)" stroke="#454545" stroke-opacity="0.72" stroke-width="1" shape-rendering="crispEdges"/>
<rect x="2653.5" y="302.5" width="8.0" height="71.0" fill="rgb(208,161,218)" stroke="#454545" stroke-opacity="0.72" stroke-width="1" shape-rendering="crispEdges"/>
<rect x="2663.5" y="281.5" width="9.0" height="79.0" fill="rgb(209,160,217)" stroke="#454545" stroke-opacity="0.72" stroke-width="1" shape-rendering="crispEdges"/>
<rect x="2674.5" y="277.5" width="9.0" height="80.0" fill="rgb(210,159,217)" stroke="#454545" stroke-opacity="0.72" stroke-width="1" shape-rendering="crispEdges"/>
<rect x="2685.5" y="283.5" width="9.0" height="71.0" fill="rgb(211,158,216)" stroke="#454545" stroke-opacity="0.72" stroke-width="1" shape-rendering="crispEdges"/>
<rect x="2696.5" y="307.5" width="9.0" height="38.0" fill="rgb(212,156,216)" stroke="#454545" stroke-opacity="0.72" stroke-width="1" shape-rendering="crispEdges"/>
<rect x="2707.5" y="294.5" width="8.0" height="41.0" fill="rgb(213,155,216)" stroke="#454545" stroke-opacity="0.72" stroke-width="1" shape-rendering="crispEdges"/>
<rect x="2717.5" y="280.5" width="9.0" height="55.0" fill="rgb(214,153,215)" stroke="#454545" stroke-opacity="0.72" stroke-width="1" shape-rendering="crispEdges"/>
<rect x="2728.5" y="253.5" width="9.0" height="76.0" fill="rgb(214,152,214)" stroke="#454545" stroke-opacity="0.72" stroke-width="1" shape-rendering="crispEdges"/>
<rect x="2739.5" y="272.5" width="9.0" height="59.0" fill="rgb(215,152,213)" stroke="#454545" stroke-opacity="0.72" stroke-width="1" shape-rendering="crispEdges"/>
<rect x="2750.5" y="273.5" width="9.0" height="62.0" fill="rgb(215,153,212)" stroke="#454545" stroke-opacity="0.72" stroke-width="1" shape-rendering="crispEdges"/>
<rect x="2761.5" y="262.5" width="8.0" height="80.0" fill="rgb(215,153,211)" stroke="#454545" stroke-opacity="0.72" stroke-width="1" shape-rendering="crispEdges"/>
<rect x="2771.5" y="271.5" width="9.0" height="89.0" fill="rgb(215,154,210)" stroke="#454545" stroke-opacity="0.72" stroke-width="1" shape-rendering="crispEdges"/>
<rect x="2782.5" y="267.5" width="9.0" height="102.0" fill="rgb(215,154,209)" stroke="#454545" stroke-opacity="0.72" stroke-width="1" shape-rendering="crispEdges"/>
<rect x="2793.5" y="270.5" width="9.0" height="68.0" fill="rgb(216,155,208)" stroke="#454545" stroke-opacity="0.72" stroke-width="1" shape-rendering="crispEdges"/>
<rect x="2804.5" y="270.5" width="9.0" height="54.0" fill="rgb(216,155,206)" stroke="#454545" stroke-opacity="0.72" stroke-width="1" shape-rendering="crispEdges"/>
<rect x="2815.5" y="267.5" width="8.0" height="83.0" fill="rgb(216,155,205)" stroke="#454545" stroke-opacity="0.72" stroke-width="1" shape-rendering="crispEdges"/>
<rect x="2826.5" y="260.5" width="8.0" height="99.0" fill="rgb(216,156,204)" stroke="#454545" stroke-opacity="0.72" stroke-width="1" shape-rendering="crispEdges"/>
<rect x="2836.5" y="274.5" width="9.0" height="63.0" fill="rgb(216,156,203)" stroke="#454545" stroke-opacity="0.72" stroke-width="1" shape-rendering="crispEdges"/>
<rect x="2847.5" y="296.5" width="9.0" height="53.0" fill="rgb(216,156,203)" stroke="#454545" stroke-opacity="0.72" stroke-width="1" shape-rendering="crispEdges"/>
<rect x="2858.5" y="291.5" width="9.0" height="69.0" fill="rgb(217,157,202)" stroke="#454545" stroke-opacity="0.72" stroke-width="1" shape-rendering="crispEdges"/>
<rect x="2869.5" y="291.5" width="8.0" height="73.0" fill="rgb(217,157,201)" stroke="#454545" stroke-opacity="0.72" stroke-width="1" shape-rendering="crispEdges"/>
<rect x="2880.5" y="312.5" width="8.0" height="66.0" fill="rgb(217,157,200)" stroke="#454545" stroke-opacity="0.72" stroke-width="1" shape-rendering="crispEdges"/>
<rect x="2890.5" y="316.5" width="9.0" height="72.0" fill="rgb(217,157,199)" stroke="#454545" stroke-opacity="0.72" stroke-width="1" shape-rendering="crispEdges"/>
<rect x="2901.5" y="308.5" width="9.0" height="67.0" fill="rgb(217,158,198)" stroke="#454545" stroke-opacity="0.72" stroke-width="1" shape-rendering="crispEdges"/>
<rect x="2912.5" y="350.5" width="9.0" height="34.0" fill="rgb(217,158,197)" stroke="#454545" stroke-opacity="0.72" stroke-width="1" shape-rendering="crispEdges"/>
<rect x="2923.5" y="336.5" width="8.0" height="57.0" fill="rgb(217,158,196)" stroke="#454545" stroke-opacity="0.72" stroke-width="1" shape-rendering="crispEdges"/>
<rect x="2934.5" y="325.5" width="8.0" height="66.0" fill="rgb(217,159,195)" stroke="#454545" stroke-opacity="0.72" stroke-width="1" shape-rendering="crispEdges"/>
<rect x="2944.5" y="347.5" width="9.0" height="58.0" fill="rgb(217,159,194)" stroke="#454545" stroke-opacity="0.72" stroke-width="1" shape-rendering="crispEdges"/>
<rect x="2955.5" y="341.5" width="9.0" height="73.0" fill="rgb(218,159,194)" stroke="#454545" stroke-opacity="0.72" stroke-width="1" shape-rendering="crispEdges"/>
<rect x="2966.5" y="352.5" width="9.0" height="52.0" fill="rgb(218,159,193)" stroke="#454545" stroke-opacity="0.72" stroke-width="1" shape-rendering="crispEdges"/>
<rect x="2977.5" y="369.5" width="8.0" height="26.0" fill="rgb(218,159,192)" stroke="#454545" stroke-opacity="0.72" stroke-width="1" shape-rendering="crispEdges"/>
<rect x="2988.5" y="350.5" width="8.0" height="49.0" fill="rgb(218,160,191)" stroke="#454545" stroke-opacity="0.72" stroke-width="1" shape-rendering="crispEdges"/>
<rect x="2998.5" y="347.5" width="9.0" height="50.0" fill="rgb(218,160,190)" stroke="#454545" stroke-opacity="0.72" stroke-width="1" shape-rendering="crispEdges"/>
<rect x="3009.5" y="358.5" width="9.0" height="35.0" fill="rgb(218,160,189)" stroke="#454545" stroke-opacity="0.72" stroke-width="1" shape-rendering="crispEdges"/>
<rect x="3020.5" y="353.5" width="9.0" height="39.0" fill="rgb(218,160,189)" stroke="#454545" stroke-opacity="0.72" stroke-width="1" shape-rendering="crispEdges"/>
<rect x="3031.5" y="342.5" width="8.0" height="60.0" fill="rgb(218,161,188)" stroke="#454545" stroke-opacity="0.72" stroke-width="1" shape-rendering="crispEdges"/>
<rect x="3042.5" y="344.5" width="8.0" height="50.0" fill="rgb(218,161,187)" stroke="#454545" stroke-opacity="0.72" stroke-width="1" shape-rendering="crispEdges"/>
<rect x="3052.5" y="341.5" width="9.0" height="54.0" fill="rgb(218,161,186)" stroke="#454545" stroke-opacity="0.72" stroke-width="1" shape-rendering="crispEdges"/>
<rect x="3063.5" y="366.5" width="9.0" height="50.0" fill="rgb(218,161,185)" stroke="#454545" stroke-opacity="0.72" stroke-width="1" shape-rendering="crispEdges"/>
<rect x="3074.5" y="346.5" width="9.0" height="54.0" fill="rgb(219,161,184)" stroke="#454545" stroke-opacity="0.72" stroke-width="1" shape-rendering="crispEdges"/>
<rect x="3085.5" y="335.5" width="8.0" height="60.0" fill="rgb(219,162,184)" stroke="#454545" stroke-opacity="0.72" stroke-width="1" shape-rendering="crispEdges"/>
<rect x="3096.5" y="334.5" width="8.0" height="43.0" fill="rgb(219,162,183)" stroke="#454545" stroke-opacity="0.72" stroke-width="1" shape-rendering="crispEdges"/>
<rect x="3106.5" y="316.5" width="9.0" height="57.0" fill="rgb(219,162,182)" stroke="#454545" stroke-opacity="0.72" stroke-width="1" shape-rendering="crispEdges"/>
<rect x="3117.5" y="317.5" width="9.0" height="56.0" fill="rgb(219,162,181)" stroke="#454545" stroke-opacity="0.72" stroke-width="1" shape-rendering="crispEdges"/>
<rect x="3128.5" y="333.5" width="9.0" height="32.0" fill="rgb(219,162,180)" stroke="#454545" stroke-opacity="0.72" stroke-width="1" shape-rendering="crispEdges"/>
<rect x="3139.5" y="298.5" width="8.0" height="62.0" fill="rgb(219,163,179)" stroke="#454545" stroke-opacity="0.72" stroke-width="1" shape-rendering="crispEdges"/>
<rect x="3150.5" y="307.5" width="8.0" height="46.0" fill="rgb(219,163,178)" stroke="#454545" stroke-opacity="0.72" stroke-width="1" shape-rendering="crispEdges"/>
<rect x="3160.5" y="313.5" width="9.0" height="39.0" fill="rgb(219,163,177)" stroke="#454545" stroke-opacity="0.72" stroke-width="1" shape-rendering="crispEdges"/>
<rect x="3171.5" y="312.5" width="9.0" height="39.0" fill="rgb(219,163,176)" stroke="#454545" stroke-opacity="0.72" stroke-width="1" shape-rendering="crispEdges"/>
<rect x="3182.5" y="291.5" width="9.0" height="55.0" fill="rgb(219,163,175)" stroke="#454545" stroke-opacity="0.72" stroke-width="1" shape-rendering="crispEdges"/>
<rect x="3193.5" y="273.5" width="8.0" height="87.0" fill="rgb(220,164,174)" stroke="#454545" stroke-opacity="0.72" stroke-width="1" shape-rendering="crispEdges"/>
<path d="M97.5 277.0V204.0M94.0 204.5H100.0M97.5 335.0V383.0M94.0 382.5H100.0M93.0 318.5H101.0M108.5 292.0V253.0M105.0 253.5H111.0M108.5 346.0V378.0M105.0 377.5H111.0M104.0 324.5H112.0M118.5 275.0V238.0M116.0 238.5H122.0M118.5 337.0V389.0M116.0 388.5H122.0M115.0 295.5H123.0M129.5 277.0V212.0M127.0 212.5H133.0M129.5 328.0V398.0M127.0 397.5H133.0M126.0 306.5H134.0M140.5 282.0V257.0M138.0 257.5H143.0M140.5 319.0V351.0M138.0 350.5H143.0M137.0 304.5H144.0M151.5 248.0V168.0M148.0 168.5H154.0M151.5 317.0V387.0M148.0 386.5H154.0M147.0 298.5H155.0M162.5 286.0V208.0M159.0 208.5H165.0M162.5 346.0V369.0M159.0 368.5H165.0M158.0 314.5H166.0M172.5 280.0V235.0M170.0 235.5H176.0M172.5 314.0V348.0M170.0 347.5H176.0M169.0 296.5H177.0M183.5 281.0V230.0M181.0 230.5H187.0M183.5 320.0V361.0M181.0 360.5H187.0M180.0 292.5H188.0M194.5 255.0V208.0M192.0 208.5H197.0M194.5 299.0V343.0M192.0 342.5H197.0M191.0 288.5H198.0M205.5 238.0V202.0M202.0 202.5H208.0M205.5 302.0V364.0M202.0 363.5H208.0M202.0 261.5H209.0M216.5 259.0V199.0M213.0 199.5H219.0M216.5 311.0V349.0M213.0 348.5H219.0M212.0 290.5H220.0M226.5 247.0V178.0M224.0 178.5H230.0M226.5 327.0V357.0M224.0 356.5H230.0M223.0 287.5H231.0M237.5 232.0V179.0M235.0 179.5H241.0M237.5 325.0V379.0M235.0 378.5H241.0M234.0 275.5H242.0M248.5 237.0V182.0M246.0 182.5H251.0M248.5 305.0V371.0M246.0 370.5H251.0M245.0 269.5H252.0M259.5 268.0V217.0M256.0 217.5H262.0M259.5 308.0V351.0M256.0 350.5H262.0M256.0 293.5H263.0M270.5 229.0V153.0M267.0 153.5H273.0M270.5 302.0V357.0M267.0 356.5H273.0M266.0 272.5H274.0M280.5 248.0V178.0M278.0 178.5H284.0M280.5 303.0V349.0M278.0 348.5H284.0M277.0 282.5H285.0M291.5 236.0V178.0M289.0 178.5H295.0M291.5 314.0V385.0M289.0 384.5H295.0M288.0 281.5H296.0M302.5 233.0V198.0M300.0 198.5H305.0M302.5 296.0V361.0M300.0 360.5H305.0M299.0 275.5H306.0M313.5 246.0V204.0M310.0 204.5H316.0M313.5 317.0V353.0M310.0 352.5H316.0M310.0 276.5H317.0M324.5 248.0V215.0M321.0 215.5H327.0M324.5 312.0V340.0M321.0 339.5H327.0M320.0 272.5H328.0M334.5 237.0V151.0M332.0 151.5H338.0M334.5 329.0V369.0M332.0 368.5H338.0M331.0 292.5H339.0M345.5 247.0V133.0M343.0 133.5H349.0M345.5 345.0V380.0M343.0 379.5H349.0M342.0 291.5H350.0M356.5 223.0V116.0M354.0 116.5H359.0M356.5 348.0V364.0M354.0 363.5H359.0M353.0 289.5H360.0M367.5 232.0V175.0M364.0 175.5H370.0M367.5 324.0V357.0M364.0 356.5H370.0M364.0 296.5H371.0M378.5 242.0V143.0M375.0 143.5H381.0M378.5 314.0V415.0M375.0 414.5H381.0M374.0 275.5H382.0M388.5 265.0V193.0M386.0 193.5H392.0M388.5 322.0V401.0M386.0 400.5H392.0M385.0 300.5H393.0M399.5 219.0V137.0M397.0 137.5H403.0M399.5 296.0V402.0M397.0 401.5H403.0M396.0 275.5H404.0M410.5 223.0V141.0M408.0 141.5H413.0M410.5 329.0V436.0M408.0 435.5H413.0M407.0 281.5H414.0M421.5 238.0V166.0M418.0 166.5H424.0M421.5 304.0V369.0M418.0 368.5H424.0M418.0 278.5H425.0M432.5 251.0V217.0M429.0 217.5H435.0M432.5 315.0V408.0M429.0 407.5H435.0M428.0 281.5H436.0M442.5 258.0V190.0M440.0 190.5H446.0M442.5 305.0V359.0M440.0 358.5H446.0M439.0 282.5H447.0M453.5 233.0V154.0M451.0 154.5H457.0M453.5 305.0V372.0M451.0 371.5H457.0M450.0 272.5H458.0M464.5 254.0V131.0M462.0 131.5H467.0M464.5 340.0V447.0M462.0 446.5H467.0M461.0 272.5H468.0M475.5 246.0V163.0M472.0 163.5H478.0M475.5 333.0V453.0M472.0 452.5H478.0M472.0 286.5H479.0M486.5 249.0V156.0M483.0 156.5H489.0M486.5 348.0V453.0M483.0 452.5H489.0M482.0 275.5H490.0M496.5 254.0V180.0M494.0 180.5H500.0M496.5 344.0V471.0M494.0 470.5H500.0M493.0 282.5H501.0M507.5 271.0V189.0M505.0 189.5H511.0M507.5 361.0V463.0M505.0 462.5H511.0M504.0 292.5H512.0M518.5 274.0V206.0M516.0 206.5H521.0M518.5 338.0V385.0M516.0 384.5H521.0M515.0 293.5H522.0M529.5 267.0V176.0M526.0 176.5H532.0M529.5 332.0V388.0M526.0 387.5H532.0M526.0 296.5H533.0M540.5 252.0V190.0M537.0 190.5H543.0M540.5 341.0V397.0M537.0 396.5H543.0M536.0 294.5H544.0M551.5 248.0V189.0M548.0 189.5H554.0M551.5 341.0V457.0M548.0 456.5H554.0M547.0 271.5H555.0M561.5 262.0V204.0M559.0 204.5H565.0M561.5 340.0V413.0M559.0 412.5H565.0M558.0 297.5H566.0M572.5 280.0V210.0M570.0 210.5H576.0M572.5 355.0V464.0M570.0 463.5H576.0M569.0 317.5H576.0M583.5 278.0V212.0M581.0 212.5H586.0M583.5 336.0V398.0M581.0 397.5H586.0M580.0 312.5H587.0M594.5 266.0V235.0M591.0 235.5H597.0M594.5 344.0V459.0M591.0 458.5H597.0M590.0 304.5H598.0M605.5 261.0V187.0M602.0 187.5H608.0M605.5 349.0V476.0M602.0 475.5H608.0M601.0 325.5H609.0M615.5 281.0V169.0M613.0 169.5H619.0M615.5 357.0V397.0M613.0 396.5H619.0M612.0 323.5H620.0M626.5 283.0V240.0M624.0 240.5H630.0M626.5 320.0V345.0M624.0 344.5H630.0M623.0 307.5H630.0M637.5 261.0V202.0M635.0 202.5H640.0M637.5 337.0V373.0M635.0 372.5H640.0M634.0 298.5H641.0M648.5 280.0V202.0M645.0 202.5H651.0M648.5 347.0V356.0M645.0 355.5H651.0M644.0 327.5H652.0M659.5 281.0V245.0M656.0 245.5H662.0M659.5 338.0V362.0M656.0 361.5H662.0M655.0 320.5H663.0M669.5 294.0V249.0M667.0 249.5H673.0M669.5 350.0V414.0M667.0 413.5H673.0M666.0 332.5H674.0M680.5 292.0V247.0M678.0 247.5H684.0M680.5 343.0V375.0M678.0 374.5H684.0M677.0 311.5H684.0M691.5 278.0V204.0M689.0 204.5H694.0M691.5 346.0V383.0M689.0 382.5H694.0M688.0 309.5H695.0M702.5 284.0V232.0M699.0 232.5H705.0M702.5 352.0V368.0M699.0 367.5H705.0M698.0 320.5H706.0M713.5 293.0V255.0M710.0 255.5H716.0M713.5 344.0V400.0M710.0 399.5H716.0M709.0 318.5H717.0M723.5 285.0V202.0M721.0 202.5H727.0M723.5 359.0V405.0M721.0 404.5H727.0M720.0 322.5H728.0M734.5 288.0V204.0M732.0 204.5H738.0M734.5 366.0V391.0M732.0 390.5H738.0M731.0 336.5H738.0M745.5 280.0V190.0M743.0 190.5H748.0M745.5 390.0V504.0M743.0 503.5H748.0M742.0 335.5H749.0M756.5 281.0V195.0M753.0 195.5H759.0M756.5 344.0V371.0M753.0 370.5H759.0M752.0 312.5H760.0M767.5 292.0V222.0M764.0 222.5H770.0M767.5 340.0V406.0M764.0 405.5H770.0M763.0 330.5H771.0M777.5 286.0V220.0M775.0 220.5H781.0M777.5 352.0V421.0M775.0 420.5H781.0M774.0 324.5H782.0M788.5 296.0V222.0M786.0 222.5H792.0M788.5 358.0V379.0M786.0 378.5H792.0M785.0 342.5H792.0M799.5 305.0V261.0M797.0 261.5H802.0M799.5 381.0V396.0M797.0 395.5H802.0M796.0 336.5H803.0M810.5 296.0V206.0M807.0 206.5H813.0M810.5 371.0V396.0M807.0 395.5H813.0M806.0 333.5H814.0M821.5 310.0V239.0M818.0 239.5H824.0M821.5 365.0V419.0M818.0 418.5H824.0M817.0 336.5H825.0M831.5 304.0V242.0M829.0 242.5H835.0M831.5 365.0V428.0M829.0 427.5H835.0M828.0 335.5H836.0M842.5 320.0V250.0M840.0 250.5H846.0M842.5 368.0V388.0M840.0 387.5H846.0M839.0 342.5H846.0M853.5 301.0V232.0M851.0 232.5H856.0M853.5 368.0V432.0M851.0 431.5H856.0M850.0 352.5H857.0M864.5 308.0V219.0M861.0 219.5H867.0M864.5 377.0V418.0M861.0 417.5H867.0M860.0 327.5H868.0M875.5 299.0V231.0M872.0 231.5H878.0M875.5 355.0V411.0M872.0 410.5H878.0M871.0 339.5H879.0M885.5 306.0V226.0M883.0 226.5H889.0M885.5 374.0V420.0M883.0 419.5H889.0M882.0 346.5H890.0M896.5 297.0V222.0M894.0 222.5H900.0M896.5 361.0V380.0M894.0 379.5H900.0M893.0 333.5H901.0M907.5 303.0V236.0M905.0 236.5H910.0M907.5 374.0V451.0M905.0 450.5H910.0M904.0 335.5H911.0M918.5 313.0V249.0M915.0 249.5H921.0M918.5 359.0V388.0M915.0 387.5H921.0M914.0 338.5H922.0M929.5 333.0V274.0M926.0 274.5H932.0M929.5 386.0V430.0M926.0 429.5H932.0M925.0 342.5H933.0M939.5 309.0V245.0M937.0 245.5H943.0M939.5 362.0V427.0M937.0 426.5H943.0M936.0 322.5H944.0M950.5 317.0V255.0M948.0 255.5H954.0M950.5 389.0V450.0M948.0 449.5H954.0M947.0 353.5H955.0M961.5 341.0V260.0M959.0 260.5H964.0M961.5 403.0V462.0M959.0 461.5H964.0M958.0 369.5H965.0M972.5 337.0V318.0M969.0 318.5H975.0M972.5 409.0V468.0M969.0 467.5H975.0M968.0 359.5H976.0M983.5 309.0V268.0M980.0 268.5H986.0M983.5 408.0V457.0M980.0 456.5H986.0M979.0 358.5H987.0M993.5 323.0V213.0M991.0 213.5H997.0M993.5 404.0V456.0M991.0 455.5H997.0M990.0 382.5H998.0M1004.5 332.0V297.0M1002.0 297.5H1008.0M1004.5 412.0V454.0M1002.0 453.5H1008.0M1001.0 386.5H1009.0M1015.5 357.0V324.0M1013.0 324.5H1018.0M1015.5 402.0V460.0M1013.0 459.5H1018.0M1012.0 380.5H1019.0M1026.5 373.0V313.0M1023.0 313.5H1029.0M1026.5 419.0V479.0M1023.0 478.5H1029.0M1022.0 401.5H1030.0M1037.5 365.0V324.0M1034.0 324.5H1040.0M1037.5 427.0V505.0M1034.0 504.5H1040.0M1033.0 385.5H1041.0M1047.5 366.0V332.0M1045.0 332.5H1051.0M1047.5 412.0V470.0M1045.0 469.5H1051.0M1044.0 390.5H1052.0M1058.5 363.0V290.0M1056.0 290.5H1062.0M1058.5 425.0V478.0M1056.0 477.5H1062.0M1055.0 391.5H1063.0M1069.5 379.0V328.0M1067.0 328.5H1072.0M1069.5 420.0V462.0M1067.0 461.5H1072.0M1066.0 401.5H1073.0M1080.5 379.0V323.0M1077.0 323.5H1083.0M1080.5 425.0V489.0M1077.0 488.5H1083.0M1077.0 414.5H1084.0M1091.5 384.0V352.0M1088.0 352.5H1094.0M1091.5 432.0V492.0M1088.0 491.5H1094.0M1087.0 420.5H1095.0M1101.5 391.0V332.0M1099.0 332.5H1105.0M1101.5 442.0V471.0M1099.0 470.5H1105.0M1098.0 406.5H1106.0M1112.5 392.0V313.0M1110.0 313.5H1116.0M1112.5 449.0V483.0M1110.0 482.5H1116.0M1109.0 416.5H1117.0M1123.5 395.0V381.0M1121.0 381.5H1126.0M1123.5 436.0V469.0M1121.0 468.5H1126.0M1120.0 428.5H1127.0M1134.5 390.0V334.0M1131.0 334.5H1137.0M1134.5 441.0V479.0M1131.0 478.5H1137.0M1131.0 426.5H1138.0M1145.5 405.0V336.0M1142.0 336.5H1148.0M1145.5 459.0V525.0M1142.0 524.5H1148.0M1141.0 427.5H1149.0M1155.5 405.0V349.0M1153.0 349.5H1159.0M1155.5 458.0V533.0M1153.0 532.5H1159.0M1152.0 439.5H1160.0M1166.5 401.0V381.0M1164.0 381.5H1170.0M1166.5 451.0V485.0M1164.0 484.5H1170.0M1163.0 425.5H1171.0M1177.5 392.0V354.0M1175.0 354.5H1180.0M1177.5 443.0V485.0M1175.0 484.5H1180.0M1174.0 429.5H1181.0M1188.5 413.0V378.0M1185.0 378.5H1191.0M1188.5 456.0V512.0M1185.0 511.5H1191.0M1185.0 431.5H1192.0M1199.5 409.0V382.0M1196.0 382.5H1202.0M1199.5 485.0V535.0M1196.0 534.5H1202.0M1195.0 449.5H1203.0M1209.5 421.0V391.0M1207.0 391.5H1213.0M1209.5 468.0V535.0M1207.0 534.5H1213.0M1206.0 443.5H1214.0M1220.5 426.0V404.0M1218.0 404.5H1224.0M1220.5 479.0V534.0M1218.0 533.5H1224.0M1217.0 450.5H1225.0M1231.5 415.0V371.0M1229.0 371.5H1234.0M1231.5 484.0V540.0M1229.0 539.5H1234.0M1228.0 443.5H1235.0M1242.5 425.0V410.0M1239.0 410.5H1245.0M1242.5 477.0V547.0M1239.0 546.5H1245.0M1239.0 449.5H1246.0M1253.5 421.0V380.0M1250.0 380.5H1256.0M1253.5 493.0V548.0M1250.0 547.5H1256.0M1249.0 452.5H1257.0M1263.5 439.0V393.0M1261.0 393.5H1267.0M1263.5 475.0V508.0M1261.0 507.5H1267.0M1260.0 451.5H1268.0M1274.5 435.0V422.0M1272.0 422.5H1278.0M1274.5 479.0V538.0M1272.0 537.5H1278.0M1271.0 453.5H1279.0M1285.5 433.0V387.0M1283.0 387.5H1288.0M1285.5 486.0V542.0M1283.0 541.5H1288.0M1282.0 444.5H1289.0M1296.5 420.0V361.0M1293.0 361.5H1299.0M1296.5 480.0V532.0M1293.0 531.5H1299.0M1293.0 454.5H1300.0M1307.5 451.0V418.0M1304.0 418.5H1310.0M1307.5 481.0V521.0M1304.0 520.5H1310.0M1303.0 463.5H1311.0M1317.5 440.0V409.0M1315.0 409.5H1321.0M1317.5 483.0V528.0M1315.0 527.5H1321.0M1314.0 452.5H1322.0M1328.5 423.0V377.0M1326.0 377.5H1332.0M1328.5 481.0V527.0M1326.0 526.5H1332.0M1325.0 445.5H1333.0M1339.5 432.0V407.0M1337.0 407.5H1342.0M1339.5 477.0V525.0M1337.0 524.5H1342.0M1336.0 463.5H1343.0M1350.5 440.0V430.0M1347.0 430.5H1353.0M1350.5 480.0V539.0M1347.0 538.5H1353.0M1347.0 458.5H1354.0M1361.5 441.0V406.0M1358.0 406.5H1364.0M1361.5 477.0V525.0M1358.0 524.5H1364.0M1357.0 459.5H1365.0M1371.5 447.0V408.0M1369.0 408.5H1375.0M1371.5 480.0V519.0M1369.0 518.5H1375.0M1368.0 461.5H1376.0M1382.5 448.0V417.0M1380.0 417.5H1386.0M1382.5 480.0V498.0M1380.0 497.5H1386.0M1379.0 462.5H1387.0M1393.5 447.0V429.0M1391.0 429.5H1397.0M1393.5 483.0V536.0M1391.0 535.5H1397.0M1390.0 473.5H1397.0M1404.5 451.0V434.0M1402.0 434.5H1407.0M1404.5 487.0V537.0M1402.0 536.5H1407.0M1401.0 462.5H1408.0M1415.5 427.0V413.0M1412.0 413.5H1418.0M1415.5 486.0V533.0M1412.0 532.5H1418.0M1411.0 461.5H1419.0M1426.5 427.0V377.0M1423.0 377.5H1429.0M1426.5 482.0V528.0M1423.0 527.5H1429.0M1422.0 455.5H1430.0M1436.5 446.0V392.0M1434.0 392.5H1440.0M1436.5 485.0V541.0M1434.0 540.5H1440.0M1433.0 468.5H1441.0M1447.5 441.0V399.0M1445.0 399.5H1451.0M1447.5 482.0V540.0M1445.0 539.5H1451.0M1444.0 460.5H1451.0M1458.5 431.0V374.0M1456.0 374.5H1461.0M1458.5 478.0V541.0M1456.0 540.5H1461.0M1455.0 469.5H1462.0M1469.5 423.0V370.0M1466.0 370.5H1472.0M1469.5 493.0V536.0M1466.0 535.5H1472.0M1465.0 470.5H1473.0M1480.5 428.0V389.0M1477.0 389.5H1483.0M1480.5 481.0V543.0M1477.0 542.5H1483.0M1476.0 439.5H1484.0M1490.5 416.0V375.0M1488.0 375.5H1494.0M1490.5 482.0V531.0M1488.0 530.5H1494.0M1487.0 449.5H1495.0M1501.5 415.0V336.0M1499.0 336.5H1505.0M1501.5 491.0V538.0M1499.0 537.5H1505.0M1498.0 459.5H1505.0M1512.5 432.0V397.0M1510.0 397.5H1515.0M1512.5 480.0V536.0M1510.0 535.5H1515.0M1509.0 448.5H1516.0M1523.5 422.0V349.0M1520.0 349.5H1526.0M1523.5 472.0V534.0M1520.0 533.5H1526.0M1519.0 441.5H1527.0M1534.5 413.0V339.0M1531.0 339.5H1537.0M1534.5 481.0V542.0M1531.0 541.5H1537.0M1530.0 457.5H1538.0M1544.5 411.0V335.0M1542.0 335.5H1548.0M1544.5 495.0V550.0M1542.0 549.5H1548.0M1541.0 445.5H1549.0M1555.5 408.0V334.0M1553.0 334.5H1559.0M1555.5 475.0V537.0M1553.0 536.5H1559.0M1552.0 432.5H1559.0M1566.5 412.0V320.0M1564.0 320.5H1569.0M1566.5 488.0V539.0M1564.0 538.5H1569.0M1563.0 431.5H1570.0M1577.5 407.0V347.0M1574.0 347.5H1580.0M1577.5 472.0V540.0M1574.0 539.5H1580.0M1573.0 426.5H1581.0M1588.5 390.0V360.0M1585.0 360.5H1591.0M1588.5 480.0V510.0M1585.0 509.5H1591.0M1584.0 436.5H1592.0M1598.5 398.0V380.0M1596.0 380.5H1602.0M1598.5 461.0V501.0M1596.0 500.5H1602.0M1595.0 442.5H1603.0M1609.5 406.0V361.0M1607.0 361.5H1613.0M1609.5 456.0V515.0M1607.0 514.5H1613.0M1606.0 433.5H1613.0M1620.5 423.0V384.0M1618.0 384.5H1623.0M1620.5 470.0V505.0M1618.0 504.5H1623.0M1617.0 432.5H1624.0M1631.5 407.0V353.0M1628.0 353.5H1634.0M1631.5 458.0V522.0M1628.0 521.5H1634.0M1627.0 430.5H1635.0M1642.5 415.0V386.0M1639.0 386.5H1645.0M1642.5 458.0V512.0M1639.0 511.5H1645.0M1638.0 430.5H1646.0M1652.5 406.0V359.0M1650.0 359.5H1656.0M1652.5 444.0V479.0M1650.0 478.5H1656.0M1649.0 436.5H1657.0M1663.5 412.0V387.0M1661.0 387.5H1667.0M1663.5 462.0V517.0M1661.0 516.5H1667.0M1660.0 436.5H1667.0M1674.5 402.0V362.0M1672.0 362.5H1677.0M1674.5 447.0V494.0M1672.0 493.5H1677.0M1671.0 431.5H1678.0M1685.5 430.0V397.0M1682.0 397.5H1688.0M1685.5 463.0V504.0M1682.0 503.5H1688.0M1681.0 446.5H1689.0M1696.5 400.0V343.0M1693.0 343.5H1699.0M1696.5 462.0V530.0M1693.0 529.5H1699.0M1692.0 419.5H1700.0M1706.5 406.0V361.0M1704.0 361.5H1710.0M1706.5 471.0V527.0M1704.0 526.5H1710.0M1703.0 433.5H1711.0M1717.5 421.0V379.0M1715.0 379.5H1721.0M1717.5 476.0V538.0M1715.0 537.5H1721.0M1714.0 443.5H1721.0M1728.5 421.0V359.0M1726.0 359.5H1731.0M1728.5 470.0V511.0M1726.0 510.5H1731.0M1725.0 442.5H1732.0M1739.5 410.0V367.0M1736.0 367.5H1742.0M1739.5 487.0V526.0M1736.0 525.5H1742.0M1735.0 434.5H1743.0M1750.5 413.0V355.0M1747.0 355.5H1753.0M1750.5 463.0V529.0M1747.0 528.5H1753.0M1746.0 447.5H1754.0M1760.5 414.0V355.0M1758.0 355.5H1764.0M1760.5 461.0V520.0M1758.0 519.5H1764.0M1757.0 436.5H1765.0M1771.5 404.0V391.0M1769.0 391.5H1775.0M1771.5 460.0V534.0M1769.0 533.5H1775.0M1768.0 426.5H1776.0M1782.5 424.0V375.0M1780.0 375.5H1785.0M1782.5 461.0V508.0M1780.0 507.5H1785.0M1779.0 454.5H1786.0M1793.5 420.0V385.0M1790.0 385.5H1796.0M1793.5 481.0V515.0M1790.0 514.5H1796.0M1789.0 446.5H1797.0M1804.5 425.0V381.0M1801.0 381.5H1807.0M1804.5 465.0V490.0M1801.0 489.5H1807.0M1800.0 443.5H1808.0M1814.5 423.0V402.0M1812.0 402.5H1818.0M1814.5 468.0V506.0M1812.0 505.5H1818.0M1811.0 444.5H1819.0M1825.5 427.0V414.0M1823.0 414.5H1829.0M1825.5 456.0V497.0M1823.0 496.5H1829.0M1822.0 447.5H1830.0M1836.5 422.0V367.0M1834.0 367.5H1839.0M1836.5 473.0V528.0M1834.0 527.5H1839.0M1833.0 455.5H1840.0M1847.5 429.0V367.0M1844.0 367.5H1850.0M1847.5 488.0V528.0M1844.0 527.5H1850.0M1843.0 444.5H1851.0M1858.5 435.0V408.0M1855.0 408.5H1861.0M1858.5 489.0V550.0M1855.0 549.5H1861.0M1854.0 463.5H1862.0M1868.5 443.0V411.0M1866.0 411.5H1872.0M1868.5 480.0V502.0M1866.0 501.5H1872.0M1865.0 456.5H1873.0M1879.5 448.0V408.0M1877.0 408.5H1883.0M1879.5 494.0V548.0M1877.0 547.5H1883.0M1876.0 461.5H1884.0M1890.5 444.0V420.0M1888.0 420.5H1893.0M1890.5 472.0V475.0M1888.0 474.5H1893.0M1887.0 459.5H1894.0M1901.5 440.0V406.0M1898.0 406.5H1904.0M1901.5 489.0V514.0M1898.0 513.5H1904.0M1897.0 474.5H1905.0M1912.5 452.0V419.0M1909.0 419.5H1915.0M1912.5 488.0V527.0M1909.0 526.5H1915.0M1908.0 474.5H1916.0M1922.5 466.0V448.0M1920.0 448.5H1926.0M1922.5 501.0V548.0M1920.0 547.5H1926.0M1919.0 481.5H1927.0M1933.5 451.0V413.0M1931.0 413.5H1937.0M1933.5 497.0V524.0M1931.0 523.5H1937.0M1930.0 480.5H1938.0M1944.5 440.0V374.0M1942.0 374.5H1947.0M1944.5 497.0V515.0M1942.0 514.5H1947.0M1941.0 475.5H1948.0M1955.5 456.0V429.0M1952.0 429.5H1958.0M1955.5 491.0V533.0M1952.0 532.5H1958.0M1952.0 468.5H1959.0M1966.5 450.0V384.0M1963.0 384.5H1969.0M1966.5 499.0V526.0M1963.0 525.5H1969.0M1962.0 480.5H1970.0M1976.5 457.0V421.0M1974.0 421.5H1980.0M1976.5 496.0V542.0M1974.0 541.5H1980.0M1973.0 470.5H1981.0M1987.5 449.0V389.0M1985.0 389.5H1991.0M1987.5 499.0V537.0M1985.0 536.5H1991.0M1984.0 475.5H1992.0M1998.5 456.0V442.0M1996.0 442.5H2001.0M1998.5 507.0V520.0M1996.0 519.5H2001.0M1995.0 479.5H2002.0M2009.5 466.0V430.0M2006.0 430.5H2012.0M2009.5 499.0V522.0M2006.0 521.5H2012.0M2006.0 485.5H2013.0M2020.5 455.0V408.0M2017.0 408.5H2023.0M2020.5 501.0V519.0M2017.0 518.5H2023.0M2016.0 470.5H2024.0M2030.5 456.0V421.0M2028.0 421.5H2034.0M2030.5 506.0V523.0M2028.0 522.5H2034.0M2027.0 471.5H2035.0M2041.5 455.0V424.0M2039.0 424.5H2045.0M2041.5 491.0V524.0M2039.0 523.5H2045.0M2038.0 477.5H2046.0M2052.5 459.0V421.0M2050.0 421.5H2055.0M2052.5 505.0V518.0M2050.0 517.5H2055.0M2049.0 473.5H2056.0M2063.5 452.0V418.0M2060.0 418.5H2066.0M2063.5 511.0V529.0M2060.0 528.5H2066.0M2060.0 472.5H2067.0M2074.5 443.0V394.0M2071.0 394.5H2077.0M2074.5 494.0V518.0M2071.0 517.5H2077.0M2070.0 471.5H2078.0M2084.5 464.0V443.0M2082.0 443.5H2088.0M2084.5 491.0V519.0M2082.0 518.5H2088.0M2081.0 475.5H2089.0M2095.5 452.0V408.0M2093.0 408.5H2099.0M2095.5 499.0V526.0M2093.0 525.5H2099.0M2092.0 472.5H2100.0M2106.5 439.0V414.0M2104.0 414.5H2109.0M2106.5 489.0V515.0M2104.0 514.5H2109.0M2103.0 468.5H2110.0M2117.5 454.0V404.0M2114.0 404.5H2120.0M2117.5 493.0V511.0M2114.0 510.5H2120.0M2114.0 472.5H2121.0M2128.5 437.0V404.0M2125.0 404.5H2131.0M2128.5 481.0V509.0M2125.0 508.5H2131.0M2124.0 465.5H2132.0M2138.5 437.0V380.0M2136.0 380.5H2142.0M2138.5 479.0V511.0M2136.0 510.5H2142.0M2135.0 461.5H2143.0M2149.5 427.0V411.0M2147.0 411.5H2153.0M2149.5 494.0V500.0M2147.0 499.5H2153.0M2146.0 459.5H2154.0M2160.5 437.0V411.0M2158.0 411.5H2163.0M2160.5 477.0V495.0M2158.0 494.5H2163.0M2157.0 466.5H2164.0M2171.5 430.0V370.0M2168.0 370.5H2174.0M2171.5 486.0V494.0M2168.0 493.5H2174.0M2168.0 470.5H2175.0M2182.5 441.0V400.0M2179.0 400.5H2185.0M2182.5 481.0V502.0M2179.0 501.5H2185.0M2178.0 463.5H2186.0M2192.5 433.0V402.0M2190.0 402.5H2196.0M2192.5 468.0V516.0M2190.0 515.5H2196.0M2189.0 451.5H2197.0M2203.5 433.0V368.0M2201.0 368.5H2207.0M2203.5 481.0V488.0M2201.0 487.5H2207.0M2200.0 453.5H2208.0M2214.5 437.0V390.0M2212.0 390.5H2217.0M2214.5 476.0V505.0M2212.0 504.5H2217.0M2211.0 454.5H2218.0M2225.5 431.0V401.0M2222.0 401.5H2228.0M2225.5 463.0V497.0M2222.0 496.5H2228.0M2222.0 448.5H2229.0M2236.5 417.0V375.0M2233.0 375.5H2239.0M2236.5 461.0V479.0M2233.0 478.5H2239.0M2232.0 447.5H2240.0M2246.5 439.0V422.0M2244.0 422.5H2250.0M2246.5 458.0V483.0M2244.0 482.5H2250.0M2243.0 446.5H2251.0M2257.5 397.0V369.0M2255.0 369.5H2261.0M2257.5 441.0V480.0M2255.0 479.5H2261.0M2254.0 428.5H2262.0M2268.5 417.0V368.0M2266.0 368.5H2272.0M2268.5 452.0V473.0M2266.0 472.5H2272.0M2265.0 432.5H2272.0M2279.5 403.0V345.0M2277.0 345.5H2282.0M2279.5 458.0V488.0M2277.0 487.5H2282.0M2276.0 428.5H2283.0M2290.5 402.0V354.0M2287.0 354.5H2293.0M2290.5 442.0V484.0M2287.0 483.5H2293.0M2286.0 430.5H2294.0M2301.5 394.0V356.0M2298.0 356.5H2304.0M2301.5 449.0V483.0M2298.0 482.5H2304.0M2297.0 432.5H2305.0M2311.5 398.0V369.0M2309.0 369.5H2315.0M2311.5 441.0V470.0M2309.0 469.5H2315.0M2308.0 425.5H2316.0M2322.5 406.0V353.0M2320.0 353.5H2326.0M2322.5 443.0V484.0M2320.0 483.5H2326.0M2319.0 420.5H2326.0M2333.5 400.0V363.0M2331.0 363.5H2336.0M2333.5 433.0V454.0M2331.0 453.5H2336.0M2330.0 415.5H2337.0M2344.5 389.0V345.0M2341.0 345.5H2347.0M2344.5 442.0V466.0M2341.0 465.5H2347.0M2340.0 404.5H2348.0M2355.5 393.0V347.0M2352.0 347.5H2358.0M2355.5 443.0V481.0M2352.0 480.5H2358.0M2351.0 423.5H2359.0M2365.5 402.0V348.0M2363.0 348.5H2369.0M2365.5 440.0V477.0M2363.0 476.5H2369.0M2362.0 421.5H2370.0M2376.5 397.0V369.0M2374.0 369.5H2380.0M2376.5 426.0V460.0M2374.0 459.5H2380.0M2373.0 417.5H2380.0M2387.5 375.0V322.0M2385.0 322.5H2390.0M2387.5 434.0V464.0M2385.0 463.5H2390.0M2384.0 413.5H2391.0M2398.5 368.0V332.0M2395.0 332.5H2401.0M2398.5 418.0V442.0M2395.0 441.5H2401.0M2394.0 397.5H2402.0M2409.5 364.0V339.0M2406.0 339.5H2412.0M2409.5 420.0V449.0M2406.0 448.5H2412.0M2405.0 392.5H2413.0M2419.5 369.0V330.0M2417.0 330.5H2423.0M2419.5 413.0V454.0M2417.0 453.5H2423.0M2416.0 386.5H2424.0M2430.5 365.0V319.0M2428.0 319.5H2434.0M2430.5 411.0V426.0M2428.0 425.5H2434.0M2427.0 385.5H2434.0M2441.5 381.0V362.0M2439.0 362.5H2444.0M2441.5 410.0V445.0M2439.0 444.5H2444.0M2438.0 393.5H2445.0M2452.5 373.0V351.0M2449.0 351.5H2455.0M2452.5 424.0V450.0M2449.0 449.5H2455.0M2448.0 397.5H2456.0M2463.5 354.0V310.0M2460.0 310.5H2466.0M2463.5 413.0V444.0M2460.0 443.5H2466.0M2459.0 378.5H2467.0M2473.5 357.0V330.0M2471.0 330.5H2477.0M2473.5 407.0V459.0M2471.0 458.5H2477.0M2470.0 388.5H2478.0M2484.5 342.0V288.0M2482.0 288.5H2488.0M2484.5 401.0V441.0M2482.0 440.5H2488.0M2481.0 369.5H2488.0M2495.5 332.0V285.0M2493.0 285.5H2498.0M2495.5 386.0V421.0M2493.0 420.5H2498.0M2492.0 364.5H2499.0M2506.5 319.0V230.0M2503.0 230.5H2509.0M2506.5 404.0V428.0M2503.0 427.5H2509.0M2502.0 350.5H2510.0M2517.5 350.0V293.0M2514.0 293.5H2520.0M2517.5 405.0V439.0M2514.0 438.5H2520.0M2513.0 370.5H2521.0M2527.5 339.0V322.0M2525.0 322.5H2531.0M2527.5 379.0V436.0M2525.0 435.5H2531.0M2524.0 354.5H2532.0M2538.5 328.0V300.0M2536.0 300.5H2542.0M2538.5 378.0V419.0M2536.0 418.5H2542.0M2535.0 364.5H2542.0M2549.5 335.0V311.0M2547.0 311.5H2552.0M2549.5 373.0V406.0M2547.0 405.5H2552.0M2546.0 354.5H2553.0M2560.5 315.0V230.0M2557.0 230.5H2563.0M2560.5 384.0V441.0M2557.0 440.5H2563.0M2556.0 351.5H2564.0M2571.5 310.0V221.0M2568.0 221.5H2574.0M2571.5 388.0V440.0M2568.0 439.5H2574.0M2567.0 347.5H2575.0M2581.5 318.0V220.0M2579.0 220.5H2585.0M2581.5 387.0V420.0M2579.0 419.5H2585.0M2578.0 352.5H2586.0M2592.5 312.0V230.0M2590.0 230.5H2596.0M2592.5 385.0V405.0M2590.0 404.5H2596.0M2589.0 353.5H2596.0M2603.5 323.0V275.0M2601.0 275.5H2606.0M2603.5 370.0V417.0M2601.0 416.5H2606.0M2600.0 350.5H2607.0M2614.5 319.0V286.0M2611.0 286.5H2617.0M2614.5 357.0V381.0M2611.0 380.5H2617.0M2610.0 347.5H2618.0M2625.5 290.0V258.0M2622.0 258.5H2628.0M2625.5 354.0V425.0M2622.0 424.5H2628.0M2621.0 303.5H2629.0M2635.5 302.0V267.0M2633.0 267.5H2639.0M2635.5 360.0V392.0M2633.0 391.5H2639.0M2632.0 327.5H2640.0M2646.5 267.0V168.0M2644.0 168.5H2650.0M2646.5 365.0V415.0M2644.0 414.5H2650.0M2643.0 346.5H2651.0M2657.5 302.0V202.0M2655.0 202.5H2660.0M2657.5 374.0V433.0M2655.0 432.5H2660.0M2654.0 340.5H2661.0M2668.5 281.0V213.0M2665.0 213.5H2671.0M2668.5 361.0V390.0M2665.0 389.5H2671.0M2664.0 339.5H2672.0M2679.5 277.0V244.0M2676.0 244.5H2682.0M2679.5 358.0V405.0M2676.0 404.5H2682.0M2675.0 308.5H2683.0M2689.5 283.0V223.0M2687.0 223.5H2693.0M2689.5 355.0V380.0M2687.0 379.5H2693.0M2686.0 328.5H2694.0M2700.5 307.0V255.0M2698.0 255.5H2704.0M2700.5 346.0V400.0M2698.0 399.5H2704.0M2697.0 331.5H2705.0M2711.5 294.0V233.0M2709.0 233.5H2714.0M2711.5 336.0V380.0M2709.0 379.5H2714.0M2708.0 320.5H2715.0M2722.5 280.0V229.0M2719.0 229.5H2725.0M2722.5 336.0V387.0M2719.0 386.5H2725.0M2718.0 305.5H2726.0M2733.5 253.0V176.0M2730.0 176.5H2736.0M2733.5 330.0V375.0M2730.0 374.5H2736.0M2729.0 305.5H2737.0M2743.5 272.0V191.0M2741.0 191.5H2747.0M2743.5 332.0V365.0M2741.0 364.5H2747.0M2740.0 303.5H2748.0M2754.5 273.0V187.0M2752.0 187.5H2758.0M2754.5 336.0V389.0M2752.0 388.5H2758.0M2751.0 305.5H2759.0M2765.5 262.0V183.0M2763.0 183.5H2768.0M2765.5 343.0V419.0M2763.0 418.5H2768.0M2762.0 308.5H2769.0M2776.5 271.0V150.0M2773.0 150.5H2779.0M2776.5 361.0V395.0M2773.0 394.5H2779.0M2772.0 300.5H2780.0M2787.5 267.0V158.0M2784.0 158.5H2790.0M2787.5 370.0V413.0M2784.0 412.5H2790.0M2783.0 325.5H2791.0M2797.5 270.0V183.0M2795.0 183.5H2801.0M2797.5 339.0V429.0M2795.0 428.5H2801.0M2794.0 315.5H2802.0M2808.5 270.0V207.0M2806.0 207.5H2812.0M2808.5 325.0V370.0M2806.0 369.5H2812.0M2805.0 306.5H2813.0M2819.5 267.0V165.0M2817.0 165.5H2822.0M2819.5 351.0V448.0M2817.0 447.5H2822.0M2816.0 309.5H2823.0M2830.5 260.0V136.0M2827.0 136.5H2833.0M2830.5 360.0V428.0M2827.0 427.5H2833.0M2827.0 291.5H2834.0M2841.5 274.0V221.0M2838.0 221.5H2844.0M2841.5 338.0V417.0M2838.0 416.5H2844.0M2837.0 317.5H2845.0M2851.5 296.0V258.0M2849.0 258.5H2855.0M2851.5 350.0V415.0M2849.0 414.5H2855.0M2848.0 314.5H2856.0M2862.5 291.0V269.0M2860.0 269.5H2866.0M2862.5 361.0V414.0M2860.0 413.5H2866.0M2859.0 312.5H2867.0M2873.5 291.0V187.0M2871.0 187.5H2876.0M2873.5 365.0V430.0M2871.0 429.5H2876.0M2870.0 328.5H2877.0M2884.5 312.0V253.0M2881.0 253.5H2887.0M2884.5 379.0V417.0M2881.0 416.5H2887.0M2881.0 336.5H2888.0M2895.5 316.0V241.0M2892.0 241.5H2898.0M2895.5 389.0V441.0M2892.0 440.5H2898.0M2891.0 337.5H2899.0M2905.5 308.0V216.0M2903.0 216.5H2909.0M2905.5 376.0V457.0M2903.0 456.5H2909.0M2902.0 344.5H2910.0M2916.5 350.0V314.0M2914.0 314.5H2920.0M2916.5 385.0V435.0M2914.0 434.5H2920.0M2913.0 370.5H2921.0M2927.5 336.0V298.0M2925.0 298.5H2930.0M2927.5 394.0V447.0M2925.0 446.5H2930.0M2924.0 364.5H2931.0M2938.5 325.0V303.0M2935.0 303.5H2941.0M2938.5 392.0V441.0M2935.0 440.5H2941.0M2935.0 366.5H2942.0M2949.5 347.0V287.0M2946.0 287.5H2952.0M2949.5 406.0V440.0M2946.0 439.5H2952.0M2945.0 383.5H2953.0M2959.5 341.0V299.0M2957.0 299.5H2963.0M2959.5 415.0V441.0M2957.0 440.5H2963.0M2956.0 375.5H2964.0M2970.5 352.0V312.0M2968.0 312.5H2974.0M2970.5 405.0V455.0M2968.0 454.5H2974.0M2967.0 388.5H2975.0M2981.5 369.0V340.0M2979.0 340.5H2984.0M2981.5 396.0V433.0M2979.0 432.5H2984.0M2978.0 384.5H2985.0M2992.5 350.0V281.0M2989.0 281.5H2995.0M2992.5 400.0V424.0M2989.0 423.5H2995.0M2989.0 378.5H2996.0M3003.5 347.0V311.0M3000.0 311.5H3006.0M3003.5 398.0V436.0M3000.0 435.5H3006.0M2999.0 381.5H3007.0M3013.5 358.0V351.0M3011.0 351.5H3017.0M3013.5 394.0V434.0M3011.0 433.5H3017.0M3010.0 375.5H3018.0M3024.5 353.0V328.0M3022.0 328.5H3028.0M3024.5 393.0V428.0M3022.0 427.5H3028.0M3021.0 373.5H3029.0M3035.5 342.0V289.0M3033.0 289.5H3038.0M3035.5 403.0V444.0M3033.0 443.5H3038.0M3032.0 377.5H3039.0M3046.5 344.0V279.0M3043.0 279.5H3049.0M3046.5 395.0V433.0M3043.0 432.5H3049.0M3043.0 382.5H3050.0M3057.5 341.0V318.0M3054.0 318.5H3060.0M3057.5 396.0V433.0M3054.0 432.5H3060.0M3053.0 382.5H3061.0M3067.5 366.0V304.0M3065.0 304.5H3071.0M3067.5 417.0V439.0M3065.0 438.5H3071.0M3064.0 392.5H3072.0M3078.5 346.0V275.0M3076.0 275.5H3082.0M3078.5 401.0V425.0M3076.0 424.5H3082.0M3075.0 375.5H3083.0M3089.5 335.0V265.0M3087.0 265.5H3092.0M3089.5 396.0V420.0M3087.0 419.5H3092.0M3086.0 344.5H3093.0M3100.5 334.0V294.0M3097.0 294.5H3103.0M3100.5 378.0V419.0M3097.0 418.5H3103.0M3097.0 349.5H3104.0M3111.5 316.0V233.0M3108.0 233.5H3114.0M3111.5 374.0V407.0M3108.0 406.5H3114.0M3107.0 359.5H3115.0M3122.5 317.0V247.0M3119.0 247.5H3125.0M3122.5 374.0V398.0M3119.0 397.5H3125.0M3118.0 356.5H3126.0M3132.5 333.0V306.0M3130.0 306.5H3136.0M3132.5 366.0V388.0M3130.0 387.5H3136.0M3129.0 352.5H3137.0M3143.5 298.0V269.0M3141.0 269.5H3147.0M3143.5 361.0V399.0M3141.0 398.5H3147.0M3140.0 330.5H3147.0M3154.5 307.0V259.0M3152.0 259.5H3157.0M3154.5 354.0V396.0M3152.0 395.5H3157.0M3151.0 335.5H3158.0M3165.5 313.0V291.0M3162.0 291.5H3168.0M3165.5 353.0V401.0M3162.0 400.5H3168.0M3161.0 325.5H3169.0M3176.5 312.0V297.0M3173.0 297.5H3179.0M3176.5 352.0V396.0M3173.0 395.5H3179.0M3172.0 329.5H3180.0M3186.5 291.0V250.0M3184.0 250.5H3190.0M3186.5 347.0V363.0M3184.0 362.5H3190.0M3183.0 313.5H3191.0M3197.5 273.0V246.0M3195.0 246.5H3201.0M3197.5 361.0V384.0M3195.0 383.5H3201.0M3194.0 318.5H3201.0" stroke="#454545" stroke-opacity="0.72" stroke-width="1" fill="none" shape-rendering="crispEdges"/>
<path d="M140.51 366.76l3.65 5.6l-3.65 5.6l-3.65 -5.6zM140.51 182.78l3.65 5.6l-3.65 5.6l-3.65 -5.6zM172.92 360.49l3.65 5.6l-3.65 5.6l-3.65 -5.6zM172.92 177.51l3.65 5.6l-3.65 5.6l-3.65 -5.6zM183.72 372.78l3.65 5.6l-3.65 5.6l-3.65 -5.6zM183.72 148.66l3.65 5.6l-3.65 5.6l-3.65 -5.6zM183.72 177.51l3.65 5.6l-3.65 5.6l-3.65 -5.6zM194.52 411.67l3.65 5.6l-3.65 5.6l-3.65 -5.6zM194.52 155.68l3.65 5.6l-3.65 5.6l-3.65 -5.6zM259.34 362.75l3.65 5.6l-3.65 5.6l-3.65 -5.6zM259.34 151.67l3.65 5.6l-3.65 5.6l-3.65 -5.6zM259.34 72.39l3.65 5.6l-3.65 5.6l-3.65 -5.6zM259.34 519.84l3.65 5.6l-3.65 5.6l-3.65 -5.6zM280.94 430.74l3.65 5.6l-3.65 5.6l-3.65 -5.6zM421.38 401.64l3.65 5.6l-3.65 5.6l-3.65 -5.6zM432.18 423.71l3.65 5.6l-3.65 5.6l-3.65 -5.6zM442.98 368.77l3.65 5.6l-3.65 5.6l-3.65 -5.6zM442.98 429.73l3.65 5.6l-3.65 5.6l-3.65 -5.6zM442.98 441.78l3.65 5.6l-3.65 5.6l-3.65 -5.6zM453.78 421.71l3.65 5.6l-3.65 5.6l-3.65 -5.6zM529.40 444.79l3.65 5.6l-3.65 5.6l-3.65 -5.6zM615.82 470.63l3.65 5.6l-3.65 5.6l-3.65 -5.6zM626.62 454.82l3.65 5.6l-3.65 5.6l-3.65 -5.6zM626.62 186.54l3.65 5.6l-3.65 5.6l-3.65 -5.6zM648.23 465.61l3.65 5.6l-3.65 5.6l-3.65 -5.6zM659.03 453.82l3.65 5.6l-3.65 5.6l-3.65 -5.6zM669.83 463.85l3.65 5.6l-3.65 5.6l-3.65 -5.6zM669.83 197.83l3.65 5.6l-3.65 5.6l-3.65 -5.6zM97.30 181.70l3.65 5.6l-3.65 5.6l-3.65 -5.6zM97.30 185.89l3.65 5.6l-3.65 5.6l-3.65 -5.6zM108.10 206.61l3.65 5.6l-3.65 5.6l-3.65 -5.6zM118.91 168.98l3.65 5.6l-3.65 5.6l-3.65 -5.6zM162.12 189.80l3.65 5.6l-3.65 5.6l-3.65 -5.6zM216.13 117.80l3.65 5.6l-3.65 5.6l-3.65 -5.6zM248.54 126.83l3.65 5.6l-3.65 5.6l-3.65 -5.6zM302.55 128.59l3.65 5.6l-3.65 5.6l-3.65 -5.6zM313.35 111.78l3.65 5.6l-3.65 5.6l-3.65 -5.6zM324.15 130.60l3.65 5.6l-3.65 5.6l-3.65 -5.6zM518.60 156.69l3.65 5.6l-3.65 5.6l-3.65 -5.6zM518.60 475.69l3.65 5.6l-3.65 5.6l-3.65 -5.6zM680.63 164.72l3.65 5.6l-3.65 5.6l-3.65 -5.6zM680.63 195.82l3.65 5.6l-3.65 5.6l-3.65 -5.6zM680.63 211.88l3.65 5.6l-3.65 5.6l-3.65 -5.6zM680.63 478.70l3.65 5.6l-3.65 5.6l-3.65 -5.6zM713.04 205.61l3.65 5.6l-3.65 5.6l-3.65 -5.6zM713.04 481.71l3.65 5.6l-3.65 5.6l-3.65 -5.6zM475.39 545.94l3.65 5.6l-3.65 5.6l-3.65 -5.6zM540.20 522.10l3.65 5.6l-3.65 5.6l-3.65 -5.6zM540.20 475.19l3.65 5.6l-3.65 5.6l-3.65 -5.6zM561.81 561.74l3.65 5.6l-3.65 5.6l-3.65 -5.6zM572.61 522.10l3.65 5.6l-3.65 5.6l-3.65 -5.6zM637.42 486.98l3.65 5.6l-3.65 5.6l-3.65 -5.6zM691.44 481.71l3.65 5.6l-3.65 5.6l-3.65 -5.6zM702.24 488.74l3.65 5.6l-3.65 5.6l-3.65 -5.6zM723.84 492.75l3.65 5.6l-3.65 5.6l-3.65 -5.6zM583.41 477.45l3.65 5.6l-3.65 5.6l-3.65 -5.6zM226.93 474.44l3.65 5.6l-3.65 5.6l-3.65 -5.6zM1026.32 291.57l3.65 5.6l-3.65 5.6l-3.65 -5.6zM1069.53 281.78l3.65 5.6l-3.65 5.6l-3.65 -5.6zM1123.54 326.69l3.65 5.6l-3.65 5.6l-3.65 -5.6zM1123.54 508.62l3.65 5.6l-3.65 5.6l-3.65 -5.6zM1263.97 331.71l3.65 5.6l-3.65 5.6l-3.65 -5.6zM1263.97 537.91l3.65 5.6l-3.65 5.6l-3.65 -5.6zM1274.77 333.71l3.65 5.6l-3.65 5.6l-3.65 -5.6zM1307.18 313.64l3.65 5.6l-3.65 5.6l-3.65 -5.6zM1307.18 376.61l3.65 5.6l-3.65 5.6l-3.65 -5.6zM1307.18 524.86l3.65 5.6l-3.65 5.6l-3.65 -5.6zM1317.98 311.64l3.65 5.6l-3.65 5.6l-3.65 -5.6zM1339.59 339.73l3.65 5.6l-3.65 5.6l-3.65 -5.6zM1339.59 352.28l3.65 5.6l-3.65 5.6l-3.65 -5.6zM1350.39 343.75l3.65 5.6l-3.65 5.6l-3.65 -5.6zM1350.39 363.82l3.65 5.6l-3.65 5.6l-3.65 -5.6zM1361.19 324.93l3.65 5.6l-3.65 5.6l-3.65 -5.6zM1371.99 334.72l3.65 5.6l-3.65 5.6l-3.65 -5.6zM1371.99 367.83l3.65 5.6l-3.65 5.6l-3.65 -5.6zM1371.99 526.62l3.65 5.6l-3.65 5.6l-3.65 -5.6zM1382.80 368.58l3.65 5.6l-3.65 5.6l-3.65 -5.6zM1382.80 380.67l3.65 5.6l-3.65 5.6l-3.65 -5.6zM1382.80 368.58l3.65 5.6l-3.65 5.6l-3.65 -5.6zM1382.80 537.15l3.65 5.6l-3.65 5.6l-3.65 -5.6zM756.25 492.31l3.65 5.6l-3.65 5.6l-3.65 -5.6zM767.05 495.82l3.65 5.6l-3.65 5.6l-3.65 -5.6zM777.86 480.77l3.65 5.6l-3.65 5.6l-3.65 -5.6zM788.66 484.28l3.65 5.6l-3.65 5.6l-3.65 -5.6zM799.46 500.59l3.65 5.6l-3.65 5.6l-3.65 -5.6zM799.46 147.78l3.65 5.6l-3.65 5.6l-3.65 -5.6zM810.26 497.33l3.65 5.6l-3.65 5.6l-3.65 -5.6zM821.07 503.60l3.65 5.6l-3.65 5.6l-3.65 -5.6zM831.87 479.77l3.65 5.6l-3.65 5.6l-3.65 -5.6zM831.87 179.65l3.65 5.6l-3.65 5.6l-3.65 -5.6zM842.67 434.61l3.65 5.6l-3.65 5.6l-3.65 -5.6zM842.67 475.75l3.65 5.6l-3.65 5.6l-3.65 -5.6zM842.67 162.59l3.65 5.6l-3.65 5.6l-3.65 -5.6zM853.48 491.31l3.65 5.6l-3.65 5.6l-3.65 -5.6zM853.48 153.81l3.65 5.6l-3.65 5.6l-3.65 -5.6zM864.28 493.57l3.65 5.6l-3.65 5.6l-3.65 -5.6zM875.08 470.49l3.65 5.6l-3.65 5.6l-3.65 -5.6zM885.88 497.58l3.65 5.6l-3.65 5.6l-3.65 -5.6zM896.68 464.72l3.65 5.6l-3.65 5.6l-3.65 -5.6zM896.68 173.88l3.65 5.6l-3.65 5.6l-3.65 -5.6zM918.29 427.84l3.65 5.6l-3.65 5.6l-3.65 -5.6zM918.29 434.61l3.65 5.6l-3.65 5.6l-3.65 -5.6zM918.29 459.70l3.65 5.6l-3.65 5.6l-3.65 -5.6zM918.29 225.81l3.65 5.6l-3.65 5.6l-3.65 -5.6zM929.09 471.74l3.65 5.6l-3.65 5.6l-3.65 -5.6zM929.09 230.82l3.65 5.6l-3.65 5.6l-3.65 -5.6zM929.09 244.87l3.65 5.6l-3.65 5.6l-3.65 -5.6zM939.89 452.92l3.65 5.6l-3.65 5.6l-3.65 -5.6zM1015.51 477.51l3.65 5.6l-3.65 5.6l-3.65 -5.6zM734.65 509.81l3.65 5.6l-3.65 5.6l-3.65 -5.6zM1134.34 516.58l3.65 5.6l-3.65 5.6l-3.65 -5.6zM1166.75 537.91l3.65 5.6l-3.65 5.6l-3.65 -5.6zM1177.55 519.59l3.65 5.6l-3.65 5.6l-3.65 -5.6zM1404.40 377.41l3.65 5.6l-3.65 5.6l-3.65 -5.6zM1652.86 499.09l3.65 5.6l-3.65 5.6l-3.65 -5.6zM1782.49 506.86l3.65 5.6l-3.65 5.6l-3.65 -5.6zM1782.49 512.38l3.65 5.6l-3.65 5.6l-3.65 -5.6zM1868.91 376.41l3.65 5.6l-3.65 5.6l-3.65 -5.6zM1868.91 549.95l3.65 5.6l-3.65 5.6l-3.65 -5.6zM1890.52 383.68l3.65 5.6l-3.65 5.6l-3.65 -5.6zM1890.52 506.86l3.65 5.6l-3.65 5.6l-3.65 -5.6zM1890.52 537.15l3.65 5.6l-3.65 5.6l-3.65 -5.6zM1890.52 550.95l3.65 5.6l-3.65 5.6l-3.65 -5.6zM1890.52 554.21l3.65 5.6l-3.65 5.6l-3.65 -5.6zM1922.92 395.72l3.65 5.6l-3.65 5.6l-3.65 -5.6zM1922.92 408.27l3.65 5.6l-3.65 5.6l-3.65 -5.6zM1922.92 367.83l3.65 5.6l-3.65 5.6l-3.65 -5.6zM1955.33 380.67l3.65 5.6l-3.65 5.6l-3.65 -5.6zM1955.33 387.70l3.65 5.6l-3.65 5.6l-3.65 -5.6zM2009.34 409.77l3.65 5.6l-3.65 5.6l-3.65 -5.6zM1393.60 285.79l3.65 5.6l-3.65 5.6l-3.65 -5.6zM1415.20 331.71l3.65 5.6l-3.65 5.6l-3.65 -5.6zM1436.81 371.85l3.65 5.6l-3.65 5.6l-3.65 -5.6zM1447.61 294.83l3.65 5.6l-3.65 5.6l-3.65 -5.6zM1458.41 346.76l3.65 5.6l-3.65 5.6l-3.65 -5.6zM1512.43 330.95l3.65 5.6l-3.65 5.6l-3.65 -5.6zM1512.43 353.78l3.65 5.6l-3.65 5.6l-3.65 -5.6zM1577.24 293.82l3.65 5.6l-3.65 5.6l-3.65 -5.6zM1620.45 345.75l3.65 5.6l-3.65 5.6l-3.65 -5.6zM1620.45 540.67l3.65 5.6l-3.65 5.6l-3.65 -5.6zM1685.27 356.79l3.65 5.6l-3.65 5.6l-3.65 -5.6zM1685.27 520.85l3.65 5.6l-3.65 5.6l-3.65 -5.6zM1771.69 312.64l3.65 5.6l-3.65 5.6l-3.65 -5.6zM1804.10 346.76l3.65 5.6l-3.65 5.6l-3.65 -5.6zM1804.10 525.36l3.65 5.6l-3.65 5.6l-3.65 -5.6zM1804.10 533.89l3.65 5.6l-3.65 5.6l-3.65 -5.6zM1814.90 345.75l3.65 5.6l-3.65 5.6l-3.65 -5.6zM1814.90 537.66l3.65 5.6l-3.65 5.6l-3.65 -5.6zM1825.70 362.81l3.65 5.6l-3.65 5.6l-3.65 -5.6zM1825.70 536.15l3.65 5.6l-3.65 5.6l-3.65 -5.6zM1912.12 369.84l3.65 5.6l-3.65 5.6l-3.65 -5.6zM1912.12 562.74l3.65 5.6l-3.65 5.6l-3.65 -5.6zM1933.72 372.85l3.65 5.6l-3.65 5.6l-3.65 -5.6zM1976.93 372.85l3.65 5.6l-3.65 5.6l-3.65 -5.6zM1674.46 520.85l3.65 5.6l-3.65 5.6l-3.65 -5.6zM1728.48 537.15l3.65 5.6l-3.65 5.6l-3.65 -5.6zM2084.96 379.81l3.65 5.6l-3.65 5.6l-3.65 -5.6zM2084.96 405.90l3.65 5.6l-3.65 5.6l-3.65 -5.6zM2182.18 372.03l3.65 5.6l-3.65 5.6l-3.65 -5.6zM2182.18 374.54l3.65 5.6l-3.65 5.6l-3.65 -5.6zM2192.99 355.72l3.65 5.6l-3.65 5.6l-3.65 -5.6zM2192.99 374.54l3.65 5.6l-3.65 5.6l-3.65 -5.6zM2214.59 372.78l3.65 5.6l-3.65 5.6l-3.65 -5.6zM2225.39 372.78l3.65 5.6l-3.65 5.6l-3.65 -5.6zM2247.00 382.07l3.65 5.6l-3.65 5.6l-3.65 -5.6zM2247.00 394.61l3.65 5.6l-3.65 5.6l-3.65 -5.6zM2322.62 337.66l3.65 5.6l-3.65 5.6l-3.65 -5.6zM2333.42 337.66l3.65 5.6l-3.65 5.6l-3.65 -5.6zM2333.42 344.69l3.65 5.6l-3.65 5.6l-3.65 -5.6zM2376.63 336.91l3.65 5.6l-3.65 5.6l-3.65 -5.6zM2376.63 345.69l3.65 5.6l-3.65 5.6l-3.65 -5.6zM2441.44 449.80l3.65 5.6l-3.65 5.6l-3.65 -5.6zM2441.44 336.41l3.65 5.6l-3.65 5.6l-3.65 -5.6zM2441.44 274.65l3.65 5.6l-3.65 5.6l-3.65 -5.6zM2344.22 301.74l3.65 5.6l-3.65 5.6l-3.65 -5.6zM2452.25 287.94l3.65 5.6l-3.65 5.6l-3.65 -5.6zM2463.05 233.75l3.65 5.6l-3.65 5.6l-3.65 -5.6zM2473.85 273.64l3.65 5.6l-3.65 5.6l-3.65 -5.6zM2495.46 223.72l3.65 5.6l-3.65 5.6l-3.65 -5.6zM2517.06 218.70l3.65 5.6l-3.65 5.6l-3.65 -5.6zM2549.47 220.71l3.65 5.6l-3.65 5.6l-3.65 -5.6zM2549.47 263.86l3.65 5.6l-3.65 5.6l-3.65 -5.6zM2549.47 268.88l3.65 5.6l-3.65 5.6l-3.65 -5.6zM2603.48 218.70l3.65 5.6l-3.65 5.6l-3.65 -5.6zM2603.48 225.72l3.65 5.6l-3.65 5.6l-3.65 -5.6zM2603.48 185.79l3.65 5.6l-3.65 5.6l-3.65 -5.6zM2614.28 217.70l3.65 5.6l-3.65 5.6l-3.65 -5.6zM2614.28 161.71l3.65 5.6l-3.65 5.6l-3.65 -5.6zM2614.28 479.70l3.65 5.6l-3.65 5.6l-3.65 -5.6zM2635.89 208.66l3.65 5.6l-3.65 5.6l-3.65 -5.6zM2635.89 160.95l3.65 5.6l-3.65 5.6l-3.65 -5.6zM2635.89 561.74l3.65 5.6l-3.65 5.6l-3.65 -5.6zM2527.86 195.82l3.65 5.6l-3.65 5.6l-3.65 -5.6zM2538.67 169.73l3.65 5.6l-3.65 5.6l-3.65 -5.6zM2625.09 180.77l3.65 5.6l-3.65 5.6l-3.65 -5.6zM2311.81 501.78l3.65 5.6l-3.65 5.6l-3.65 -5.6zM2355.02 549.95l3.65 5.6l-3.65 5.6l-3.65 -5.6zM2398.23 487.73l3.65 5.6l-3.65 5.6l-3.65 -5.6zM2646.69 536.65l3.65 5.6l-3.65 5.6l-3.65 -5.6zM2700.70 229.42l3.65 5.6l-3.65 5.6l-3.65 -5.6zM2700.70 235.69l3.65 5.6l-3.65 5.6l-3.65 -5.6zM2711.51 226.41l3.65 5.6l-3.65 5.6l-3.65 -5.6zM2916.75 277.08l3.65 5.6l-3.65 5.6l-3.65 -5.6zM2916.75 171.44l3.65 5.6l-3.65 5.6l-3.65 -5.6zM2916.75 194.77l3.65 5.6l-3.65 5.6l-3.65 -5.6zM2970.77 238.70l3.65 5.6l-3.65 5.6l-3.65 -5.6zM2970.77 221.61l3.65 5.6l-3.65 5.6l-3.65 -5.6zM2981.57 277.59l3.65 5.6l-3.65 5.6l-3.65 -5.6zM2981.57 310.95l3.65 5.6l-3.65 5.6l-3.65 -5.6zM2981.57 194.77l3.65 5.6l-3.65 5.6l-3.65 -5.6zM2992.37 239.70l3.65 5.6l-3.65 5.6l-3.65 -5.6zM3013.98 264.54l3.65 5.6l-3.65 5.6l-3.65 -5.6zM3013.98 270.81l3.65 5.6l-3.65 5.6l-3.65 -5.6zM3024.78 274.58l3.65 5.6l-3.65 5.6l-3.65 -5.6zM3024.78 221.61l3.65 5.6l-3.65 5.6l-3.65 -5.6zM3035.58 238.70l3.65 5.6l-3.65 5.6l-3.65 -5.6zM3067.99 228.66l3.65 5.6l-3.65 5.6l-3.65 -5.6zM3100.40 248.74l3.65 5.6l-3.65 5.6l-3.65 -5.6zM3132.80 232.68l3.65 5.6l-3.65 5.6l-3.65 -5.6zM2765.52 133.81l3.65 5.6l-3.65 5.6l-3.65 -5.6zM2841.14 124.77l3.65 5.6l-3.65 5.6l-3.65 -5.6zM2851.94 103.70l3.65 5.6l-3.65 5.6l-3.65 -5.6zM2862.74 100.69l3.65 5.6l-3.65 5.6l-3.65 -5.6zM2873.54 97.68l3.65 5.6l-3.65 5.6l-3.65 -5.6zM2884.35 121.76l3.65 5.6l-3.65 5.6l-3.65 -5.6zM2895.15 140.83l3.65 5.6l-3.65 5.6l-3.65 -5.6zM2905.95 185.74l3.65 5.6l-3.65 5.6l-3.65 -5.6zM2927.56 131.80l3.65 5.6l-3.65 5.6l-3.65 -5.6zM2927.56 173.70l3.65 5.6l-3.65 5.6l-3.65 -5.6zM2938.36 168.68l3.65 5.6l-3.65 5.6l-3.65 -5.6zM2938.36 170.68l3.65 5.6l-3.65 5.6l-3.65 -5.6zM2949.16 169.93l3.65 5.6l-3.65 5.6l-3.65 -5.6zM2949.16 186.74l3.65 5.6l-3.65 5.6l-3.65 -5.6zM2959.96 133.81l3.65 5.6l-3.65 5.6l-3.65 -5.6zM2959.96 208.82l3.65 5.6l-3.65 5.6l-3.65 -5.6zM3003.17 222.37l3.65 5.6l-3.65 5.6l-3.65 -5.6zM3046.38 213.58l3.65 5.6l-3.65 5.6l-3.65 -5.6zM3057.19 213.58l3.65 5.6l-3.65 5.6l-3.65 -5.6zM3078.79 223.87l3.65 5.6l-3.65 5.6l-3.65 -5.6zM2808.73 458.77l3.65 5.6l-3.65 5.6l-3.65 -5.6zM2689.90 547.69l3.65 5.6l-3.65 5.6l-3.65 -5.6z" fill="#454545" stroke="#454545" stroke-width="0.5" stroke-linejoin="miter"/>
<polyline points="97.30,332.91 108.10,347.97 118.91,326.14 129.71,327.90 140.51,293.52 151.31,375.12 162.12,280.73 172.92,286.50 183.72,209.80 194.52,274.71 205.32,280.73 216.13,314.60 226.93,297.04 237.73,351.73 248.54,320.37 259.34,289.01 270.14,274.46 280.94,325.39 291.75,313.34 302.55,351.73 313.35,323.63 324.15,327.14 334.95,306.57 345.76,264.67 356.56,268.69 367.36,243.35 378.17,236.07 388.97,300.30 399.77,273.20 410.57,337.68 421.38,330.91 432.18,330.40 442.98,323.63 453.78,315.60 464.59,370.11 475.39,326.14 486.19,360.32 496.99,343.20 507.80,351.23 518.60,320.37 529.40,372.61 540.20,369.35 551.00,250.12 561.81,263.42 572.61,342.95 583.41,361.32 594.22,307.07 605.02,295.78 615.82,357.06 626.62,247.00 637.42,275.96 648.23,294.53 659.03,302.56 669.83,301.55 680.63,298.54 691.44,324.38 702.24,304.56 713.04,327.90 723.84,330.40 734.65,331.91 745.45,339.06 756.25,300.18 767.05,297.67 777.86,345.33 788.66,327.77 799.46,296.41 810.26,320.25 821.07,361.64 831.87,391.29 842.67,365.91 853.48,353.61 864.28,394.30 875.08,355.37 885.88,350.85 896.68,375.44 907.49,400.32 918.29,393.80 929.09,420.14 939.89,433.44 950.70,413.37 961.50,411.36 972.30,415.88 983.11,427.67 993.91,382.01 1004.71,385.02 1015.51,417.13 1026.32,385.27 1037.12,374.69 1047.92,328.52 1058.72,295.91 1069.53,384.47 1080.33,349.85 1091.13,374.69 1101.93,387.53 1112.74,397.06 1123.54,389.53 1134.34,413.87 1145.14,394.30 1155.94,425.16 1166.75,434.19 1177.55,448.24 1188.35,413.37 1199.15,455.26 1209.96,457.27 1220.76,433.44 1231.56,440.46 1242.37,441.21 1253.17,428.92 1263.97,417.63 1274.77,409.35 1285.58,426.41 1296.38,414.37 1307.18,423.90 1317.98,437.45 1328.79,423.15 1339.59,398.82 1350.39,393.30 1361.19,437.20 1371.99,437.20 1382.80,427.17 1393.60,436.45 1404.40,424.41 1415.20,426.41 1426.01,422.40 1436.81,430.18 1447.61,446.48 1458.41,437.70 1469.22,438.96 1480.02,459.28 1490.82,462.04 1501.62,472.82 1512.43,463.54 1523.23,454.51 1534.03,460.28 1544.84,490.39 1555.64,474.33 1566.44,427.17 1577.24,415.37 1588.05,456.52 1598.85,450.25 1609.65,436.95 1620.45,452.25 1631.25,443.97 1642.06,424.41 1652.86,429.67 1663.66,442.72 1674.46,456.52 1685.27,456.02 1696.07,408.35 1706.87,456.02 1717.67,456.52 1728.48,464.30 1739.28,435.19 1750.08,457.77 1760.88,445.23 1771.69,434.19 1782.49,441.21 1793.29,434.94 1804.10,469.06 1814.90,441.47 1825.70,454.01 1836.50,487.88 1847.31,479.85 1858.11,412.36 1868.91,478.34 1879.71,435.19 1890.52,403.83 1901.32,430.18 1912.12,469.56 1922.92,455.26 1933.72,432.18 1944.53,456.52 1955.33,457.27 1966.13,466.55 1976.93,436.45 1987.74,453.51 1998.54,455.26 2009.34,467.56 2020.14,455.26 2030.95,462.18 2041.75,449.88 2052.55,451.89 2063.36,455.91 2074.16,474.22 2084.96,465.19 2095.76,462.43 2106.57,423.54 2117.37,462.43 2128.17,452.39 2138.97,478.48 2149.78,476.23 2160.58,454.90 2171.38,467.20 2182.18,452.39 2192.99,429.56 2203.79,453.40 2214.59,452.39 2225.39,446.37 2236.20,432.32 2247.00,387.17 2257.80,371.36 2268.60,361.83 2279.41,376.88 2290.21,355.30 2301.01,386.16 2311.81,306.09 2322.62,311.35 2333.42,320.39 2344.22,331.42 2355.02,357.06 2365.83,334.69 2376.63,347.48 2387.43,370.11 2398.23,305.33 2409.04,277.24 2419.84,347.48 2430.64,361.32 2441.44,329.42 2452.25,271.97 2463.05,301.57 2473.85,302.32 2484.65,257.17 2495.46,248.38 2506.26,243.87 2517.06,286.27 2527.86,133.94 2538.67,195.40 2549.47,224.30 2560.27,236.34 2571.07,199.92 2581.88,172.32 2592.68,227.56 2603.48,245.12 2614.28,271.47 2625.09,300.32 2635.89,312.36 2646.69,275.23 2657.49,332.86 2668.30,308.52 2679.10,338.63 2689.90,298.49 2700.70,298.24 2711.51,305.26 2722.31,309.28 2733.11,279.67 2743.91,314.55 2754.72,243.30 2765.52,283.44 2776.32,217.93 2787.12,162.24 2797.93,212.41 2808.73,210.40 2819.53,130.12 2830.33,191.09 2841.14,153.20 2851.94,216.42 2862.74,185.32 2873.54,212.41 2884.35,223.70 2895.15,204.38 2905.95,261.36 2916.75,289.21 2927.56,257.35 2938.36,266.38 2949.16,263.37 2959.96,290.21 2970.77,275.41 2981.57,225.21 2992.37,262.11 3003.17,235.02 3013.98,247.06 3024.78,297.74 3035.58,387.60 3046.38,323.58 3057.19,369.28 3067.99,374.30 3078.79,337.88 3089.59,360.21 3100.40,339.38 3111.20,337.88 3122.00,293.97 3132.80,277.17 3143.61,324.08 3154.41,302.75 3165.21,294.48" fill="none" stroke="#0000ff" stroke-width="2.1" stroke-linejoin="round" stroke-linecap="butt"/>
<line x1="128.0" x2="128.0" y1="54.0" y2="590.8" stroke="#4a70af" stroke-width="2.08"/>
<line x1="329.0" x2="329.0" y1="54.0" y2="590.8" stroke="#4a70af" stroke-width="2.08"/>
<line x1="1304.0" x2="1304.0" y1="54.0" y2="590.8" stroke="#4a70af" stroke-width="2.08"/>
<line x1="2404.0" x2="2404.0" y1="54.0" y2="590.8" stroke="#4a70af" stroke-width="2.08"/>
<line x1="3119.0" x2="3119.0" y1="54.0" y2="590.8" stroke="#4a70af" stroke-width="2.08"/>
</g>
</svg>
<div class="t" style="left:0;width:3293.6px;text-align:center;top:7.4px;font-size:18.6px;line-height:21px;">Comparison of Spot Counts on 2025.09.06 to Previous 21 Days<br>30m</div>
<div class="yt" style="top:568.80px">0</div>
<div class="yt" style="top:506.82px">2000</div>
<div class="yt" style="top:444.85px">4000</div>
<div class="yt" style="top:382.87px">6000</div>
<div class="yt" style="top:320.90px">8000</div>
<div class="yt" style="top:258.92px">10000</div>
<div class="yt" style="top:196.94px">12000</div>
<div class="yt" style="top:134.97px">14000</div>
<div class="yt" style="top:72.99px">16000</div>
<div class="xt" style="left:88.80px;top:660.60px">00:00Z</div>
<div class="xt" style="left:153.62px;top:660.60px">00:30Z</div>
<div class="xt" style="left:218.43px;top:660.60px">01:00Z</div>
<div class="xt" style="left:283.25px;top:660.60px">01:30Z</div>
<div class="xt" style="left:348.06px;top:660.60px">02:00Z</div>
<div class="xt" style="left:412.88px;top:660.60px">02:30Z</div>
<div class="xt" style="left:477.69px;top:660.60px">03:00Z</div>
<div class="xt" style="left:542.50px;top:660.60px">03:30Z</div>
<div class="xt" style="left:607.32px;top:660.60px">04:00Z</div>
<div class="xt" style="left:672.13px;top:660.60px">04:30Z</div>
<div class="xt" style="left:736.95px;top:660.60px">05:00Z</div>
<div class="xt" style="left:801.76px;top:660.60px">05:30Z</div>
<div class="xt" style="left:866.58px;top:660.60px">06:00Z</div>
<div class="xt" style="left:931.39px;top:660.60px">06:30Z</div>
<div class="xt" style="left:996.21px;top:660.60px">07:00Z</div>
<div class="xt" style="left:1061.03px;top:660.60px">07:30Z</div>
<div class="xt" style="left:1125.84px;top:660.60px">08:00Z</div>
<div class="xt" style="left:1190.65px;top:660.60px">08:30Z</div>
<div class="xt" style="left:1255.47px;top:660.60px">09:00Z</div>
<div class="xt" style="left:1320.29px;top:660.60px">09:30Z</div>
<div class="xt" style="left:1385.10px;top:660.60px">10:00Z</div>
<div class="xt" style="left:1449.91px;top:660.60px">10:30Z</div>
<div class="xt" style="left:1514.73px;top:660.60px">11:00Z</div>
<div class="xt" style="left:1579.55px;top:660.60px">11:30Z</div>
<div class="xt" style="left:1644.36px;top:660.60px">12:00Z</div>
<div class="xt" style="left:1709.17px;top:660.60px">12:30Z</div>
<div class="xt" style="left:1773.99px;top:660.60px">13:00Z</div>
<div class="xt" style="left:1838.81px;top:660.60px">13:30Z</div>
<div class="xt" style="left:1903.62px;top:660.60px">14:00Z</div>
<div class="xt" style="left:1968.43px;top:660.60px">14:30Z</div>
<div class="xt" style="left:2033.25px;top:660.60px">15:00Z</div>
<div class="xt" style="left:2098.07px;top:660.60px">15:30Z</div>
<div class="xt" style="left:2162.88px;top:660.60px">16:00Z</div>
<div class="xt" style="left:2227.70px;top:660.60px">16:30Z</div>
<div class="xt" style="left:2292.51px;top:660.60px">17:00Z</div>
<div class="xt" style="left:2357.33px;top:660.60px">17:30Z</div>
<div class="xt" style="left:2422.14px;top:660.60px">18:00Z</div>
<div class="xt" style="left:2486.96px;top:660.60px">18:30Z</div>
<div class="xt" style="left:2551.77px;top:660.60px">19:00Z</div>
<div class="xt" style="left:2616.59px;top:660.60px">19:30Z</div>
<div class="xt" style="left:2681.40px;top:660.60px">20:00Z</div>
<div class="xt" style="left:2746.22px;top:660.60px">20:30Z</div>
<div class="xt" style="left:2811.03px;top:660.60px">21:00Z</div>
<div class="xt" style="left:2875.85px;top:660.60px">21:30Z</div>
<div class="xt" style="left:2940.66px;top:660.60px">22:00Z</div>
<div class="xt" style="left:3005.48px;top:660.60px">22:30Z</div>
<div class="xt" style="left:3070.29px;top:660.60px">23:00Z</div>
<div class="xt" style="left:3135.11px;top:660.60px">23:30Z</div>
<div class="t" style="left:0;width:3293.2px;text-align:center;top:663.0px;font-size:22.6px;letter-spacing:0.32px;">Time of Day</div>
<div class="t" style="left:6.2px;top:380.9px;font-size:22.6px;letter-spacing:0.27px;transform-origin:0 0;transform:rotate(-90deg);width:116px;text-align:center;">Spot Count</div>
<div class="an" style="left:132.0px;top:89.9px"><span style="display:inline-block;transform-origin:0 50%;transform:scaleX(0.95)">EM</span><br>Set</div>
<div class="an" style="left:333.0px;top:89.9px"><span style="display:inline-block;transform-origin:0 50%;transform:scaleX(1.04)">DM</span><br>Set</div>
<div class="an" style="left:1308.0px;top:89.9px"><span style="display:inline-block;transform-origin:0 50%;transform:scaleX(0.98)">PM</span><br>Set</div>
<div class="an" style="left:2408.0px;top:89.9px"><span style="display:inline-block;transform-origin:0 50%;transform:scaleX(0.77)">JN</span><br>Set</div>
<div class="an" style="left:3123.0px;top:89.9px"><span style="display:inline-block;transform-origin:0 50%;transform:scaleX(0.88)">FN</span><br>Set</div>
</body></html>
